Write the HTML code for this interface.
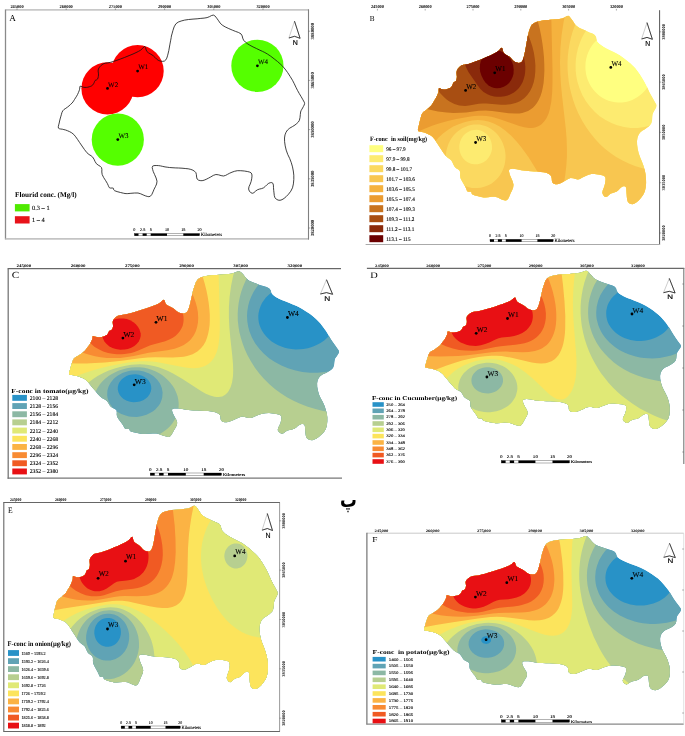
<!DOCTYPE html>
<html><head><meta charset="utf-8"><title>Fluoride maps</title>
<style>
html,body{margin:0;padding:0;background:#fff;}
body{width:685px;height:736px;overflow:hidden;}
svg{display:block;}
text{font-family:"Liberation Serif",serif;fill:#000;text-rendering:geometricPrecision;}
.w{font-size:7px;stroke:#000;stroke-width:0.08px;}
.t{font-size:3.4px;font-weight:bold;text-anchor:middle;}
.tv{font-size:3.4px;font-weight:bold;text-anchor:middle;}
.pl{font-size:8px;}
.lt{font-size:6px;font-weight:bold;}
.li{font-size:4.6px;stroke:#000;stroke-width:0.1px;}
.sb{font-size:3.6px;stroke:#000;stroke-width:0.1px;}
.n{font-family:"Liberation Sans",sans-serif;font-size:7px;text-anchor:middle;stroke:#000;stroke-width:0.15px;}
</style></head><body>
<svg width="685" height="736" viewBox="0 0 685 736">
<rect width="685" height="736" fill="#fff"/>
<g id="pA">
<circle cx="137.6" cy="71.1" r="26.1" fill="#FF0000"/>
<circle cx="107.5" cy="88.4" r="26.1" fill="#FF0000"/>
<circle cx="117.8" cy="139.6" r="26.1" fill="#55FF00"/>
<circle cx="257.4" cy="65.8" r="26.1" fill="#55FF00"/>
<path d="M80.1 86.2L81.1 86.3L82.3 86.9L83.7 87.3L85 87.4L86.4 87.4L87.8 87.2L89.2 86.8L90.7 86.3L91.9 85.7L92.8 84.9L93.4 84.1L93.9 83.2L94.3 82.3L94.6 81.4L95 80.6L95.8 80.1L96.7 79.8L97.5 79.1L98 78L98.3 76.6L98.5 75L98.4 73.1L98.1 71L98.4 69L99.5 67.1L101.1 65.4L103 64L105.2 63.2L107.7 62.9L110.5 62.3L113.6 61.4L116.9 60.3L120.5 59L124.7 57.4L129.1 55.6L133 54L136 52.6L138.5 51.4L140.6 50.2L142.4 48.6L143.8 47L144.9 46.4L145.6 47.5L146 49.5L146.9 51.5L148.7 53L151 54.3L153.2 55.7L154.9 57.3L156.5 59L158.2 60.3L160.3 61.1L162.6 61.4L164.5 61L165.8 59.9L166.8 58.1L167.7 55.2L168.8 50.6L169.8 44.9L170.7 40.2L171.2 37.6L171.4 36L172 33.9L172.9 30.6L174.1 26.9L175.8 23.9L178.2 22.1L181.2 21L184.6 20.1L188.6 19.5L193 19.1L197.1 18.8L200.8 18.4L204.1 18.1L207.1 17.6L209.6 16.6L211.6 15.5L213.4 15.1L214.8 15.8L215.9 17.1L217.2 18.8L218.6 20.8L220.1 23L222.2 25.1L225.2 26.9L228.8 28.6L232.3 30.1L235.5 31.4L238.6 32.5L241 33.9L242.2 35.9L242.7 38.1L243.6 40.2L245.3 42L247.3 43.6L249.8 45.2L253 46.9L256.6 48.6L259.9 50.2L262.5 51.4L264.8 52.5L267.4 54L270.7 56.2L274.2 58.9L277.5 61.5L280.2 63.9L282.6 66.2L285 69L287.6 72.5L290.2 76.5L292.5 80.3L294.3 83.8L295.9 87.2L297.5 90.4L299.3 93.6L301.1 96.6L302.6 99.2L303.6 101L304.3 102.2L304.6 103.5L304.2 105L303.4 106.5L302.6 108L301.9 109.2L301.2 110.4L300.6 112L300.3 114.6L300 117.6L299.4 120.3L298.3 122.1L296.8 123.5L295 125L292.6 126.5L289.8 128.1L287.5 130L286 132.3L285 134.9L284.5 138L284.6 141.7L285.2 145.9L286.2 150.1L287.7 154.3L289.7 158.5L291.3 162.7L292.5 166.9L293.3 171L293.8 175.2L293.8 179.5L293.4 183.9L292.5 187.8L290.8 191.2L288.5 194.2L286.2 196.6L284.1 198.4L282 199.7L280 200.3L278.1 200.1L276.3 199.2L275 197.8L274.3 195.7L274 192.9L273.7 190.3L273.5 187.7L273.4 185.1L272.9 183.3L271.8 182.6L270.3 182.7L268.7 183.3L267.1 184.6L265.4 186.3L263.6 187.8L261.6 188.6L259.4 189.1L257.4 189.8L255.6 191.1L253.9 192.7L252.3 193.3L250.7 192.6L249.3 191L248.6 189L249 186.7L250.2 184.1L251.1 181.5L251.7 178.8L252 176.1L251.8 174L250.9 172.7L249.4 172L247.3 171.5L244.3 171L240.7 170.7L237.3 170.7L234.5 171.3L232 172.2L229.7 173.2L227.6 174.3L225.6 175.4L223.5 176L221.1 175.6L218.5 174.8L215.9 174.5L213.3 175.4L210.8 176.9L208.4 178.2L206.2 179.3L204.1 180.2L202.1 180.7L200.2 180.6L198.4 180.1L197.1 179L196.6 177.1L196.4 174.7L195.9 172.7L194.6 171.3L192.9 170.2L190.8 169.4L188.2 168.8L185.2 168.5L182 168.2L178.6 168L175.2 167.9L172 167.7L169.4 167.5L167.2 167.2L165 166.9L162.7 166.4L160.5 165.9L158.4 165.6L156.2 165.5L154 165.6L152.6 166.2L152.2 167.5L152.6 169.4L153.3 171.7L154.6 174.6L156.1 178L157 181.2L156.6 184L155.4 186.7L154.1 189.2L153 191.9L151.8 194.5L150.4 196.2L148.9 196.7L147.2 196.4L145.3 195.8L143.1 194.9L140.7 193.8L138 193L134.6 193L130.9 193.3L127.8 193.6L126.1 193.6L125 193.5L123.4 193.2L120.5 192.5L117.1 191.6L114.6 190.7L113.7 189.8L113.6 188.8L113.2 188.1L112.1 188L110.7 188.1L109.5 187.8L108.8 186.8L108.2 185.3L107.3 183.4L105.7 180.7L103.7 177.6L102.2 174.6L101.8 172L101.9 169.6L101.5 167.6L100.1 166.2L98.2 165.1L96.4 163.7L95.1 161.6L94 159.2L92.7 157.1L91 155.7L89 154.5L86.9 152.7L84.5 149.6L82 146L79.6 142.5L77.6 139.5L75.7 136.8L73.8 134.5L71.7 132.8L69.5 131.6L67.4 130.7L65.6 130L63.9 129.6L62.3 129.2L60.7 129L59.3 128.7L58.4 128.1L58.3 126.7L58.7 124.9L59.2 123L59.6 121L60.1 119L60.7 116.9L61.3 114.8L61.9 112.6L62.8 110.8L64.1 109.4L65.8 108.3L67.4 107.2L69 105.9L70.6 104.4L72 103.1L73 101.9L73.7 100.8L74.5 99.5L75.5 97.9L76.6 96.2L77.6 94.4L78.4 92.6L79.1 90.9L79.6 89.3L79.8 88L79.8 86.8Z" fill="none" stroke="#111" stroke-width="0.8"/>
</g>
<g id="pB">
<clipPath id="clipB"><path d="M439 88.2L440 88.3L441.2 88.9L442.5 89.3L443.8 89.4L445.2 89.4L446.5 89.2L447.9 88.8L449.3 88.3L450.5 87.7L451.3 86.9L451.9 86L452.4 85.1L452.8 84.2L453 83.3L453.5 82.5L454.2 82L455.1 81.6L455.9 81L456.4 79.8L456.7 78.4L456.9 76.8L456.7 74.9L456.5 72.7L456.8 70.7L457.8 68.8L459.4 67L461.2 65.6L463.3 64.8L465.8 64.4L468.5 63.9L471.4 62.9L474.7 61.8L478.2 60.5L482.2 58.9L486.5 57.1L490.3 55.4L493.2 54L495.6 52.8L497.6 51.6L499.4 49.9L500.7 48.3L501.8 47.7L502.5 48.8L502.9 50.9L503.7 52.9L505.5 54.4L507.8 55.7L509.9 57.1L511.5 58.8L513 60.5L514.7 61.8L516.7 62.6L518.9 62.9L520.8 62.5L522.1 61.4L523 59.5L523.9 56.6L524.9 51.9L526 46.2L526.8 41.4L527.3 38.7L527.5 37.1L528.1 35L528.9 31.6L530.1 27.9L531.7 24.8L534.1 23L537 21.8L540.3 20.9L544.1 20.3L548.4 20L552.4 19.6L555.9 19.2L559.2 18.9L562.1 18.4L564.5 17.4L566.4 16.3L568.2 15.8L569.5 16.5L570.6 17.9L571.8 19.6L573.2 21.6L574.7 23.9L576.7 26L579.6 27.9L583.1 29.6L586.5 31.1L589.6 32.4L592.6 33.5L594.9 35L596.1 37L596.5 39.2L597.4 41.4L599 43.2L601 44.8L603.4 46.5L606.5 48.2L610 49.9L613.2 51.6L615.7 52.8L618 53.9L620.5 55.4L623.6 57.7L627.1 60.4L630.3 63L632.9 65.4L635.2 67.8L637.5 70.7L640 74.3L642.5 78.3L644.8 82.2L646.6 85.7L648.1 89.2L649.6 92.4L651.4 95.7L653.1 98.8L654.6 101.4L655.6 103.2L656.3 104.5L656.5 105.8L656.2 107.3L655.4 108.9L654.6 110.3L653.9 111.6L653.2 112.8L652.6 114.4L652.3 117L652.1 120.2L651.5 122.9L650.4 124.7L649 126.2L647.2 127.6L644.9 129.2L642.2 130.8L639.9 132.7L638.5 135.1L637.5 137.7L637 140.9L637.1 144.6L637.7 148.9L638.7 153.2L640.2 157.4L642 161.7L643.6 166L644.8 170.2L645.6 174.5L646 178.7L646.1 183.1L645.7 187.5L644.8 191.5L643.1 195L640.9 198L638.7 200.5L636.6 202.3L634.6 203.6L632.7 204.2L630.8 204L629.1 203.2L627.8 201.7L627.1 199.5L626.8 196.8L626.6 194.1L626.4 191.4L626.3 188.8L625.8 186.9L624.7 186.2L623.3 186.3L621.7 186.9L620.2 188.2L618.6 190L616.8 191.5L614.8 192.3L612.8 192.9L610.8 193.6L609 194.9L607.4 196.5L605.8 197.1L604.3 196.4L603 194.7L602.3 192.7L602.7 190.4L603.8 187.8L604.7 185.1L605.2 182.4L605.6 179.6L605.4 177.5L604.5 176.2L603 175.5L601 174.9L598.1 174.4L594.6 174.1L591.3 174.1L588.6 174.7L586.2 175.7L584 176.7L581.9 177.8L580 178.9L577.9 179.5L575.6 179.1L573.1 178.3L570.6 178L568.1 178.9L565.7 180.4L563.3 181.8L561.2 182.9L559.1 183.8L557.2 184.3L555.4 184.2L553.7 183.7L552.4 182.6L551.9 180.7L551.7 178.2L551.2 176.2L550 174.7L548.3 173.7L546.3 172.8L543.7 172.2L540.8 171.9L537.7 171.6L534.5 171.4L531.1 171.2L528.1 171.1L525.6 170.8L523.4 170.6L521.3 170.3L519.1 169.8L516.9 169.3L514.9 168.9L512.7 168.8L510.6 168.9L509.3 169.5L508.9 170.9L509.3 172.8L509.9 175.1L511.2 178.1L512.7 181.5L513.5 184.8L513.1 187.7L512 190.4L510.7 192.9L509.6 195.7L508.5 198.3L507.1 200.1L505.7 200.6L504.1 200.3L502.2 199.7L500.1 198.8L497.8 197.6L495.1 196.8L491.8 196.8L488.2 197.2L485.2 197.4L483.6 197.4L482.5 197.3L481 197L478.2 196.3L474.9 195.4L472.5 194.5L471.6 193.5L471.5 192.5L471.1 191.8L470 191.7L468.7 191.8L467.5 191.5L466.8 190.5L466.3 189L465.4 187L463.8 184.3L461.9 181.1L460.4 178.1L460.1 175.5L460.2 173L459.8 171L458.4 169.5L456.5 168.4L454.8 167L453.6 164.9L452.5 162.5L451.2 160.3L449.6 158.9L447.7 157.7L445.6 155.8L443.3 152.7L440.9 149L438.6 145.4L436.6 142.4L434.8 139.6L432.9 137.3L430.9 135.6L428.7 134.4L426.7 133.4L425 132.7L423.3 132.3L421.8 131.9L420.3 131.7L418.9 131.5L418 130.8L417.9 129.4L418.3 127.6L418.8 125.6L419.2 123.6L419.7 121.5L420.2 119.4L420.8 117.2L421.4 115.1L422.3 113.2L423.6 111.8L425.2 110.7L426.7 109.5L428.3 108.2L429.9 106.7L431.2 105.4L432.1 104.2L432.8 103L433.6 101.7L434.6 100.1L435.7 98.3L436.6 96.5L437.4 94.7L438.1 92.9L438.6 91.3L438.7 90L438.7 88.8Z"/></clipPath>
<g clip-path="url(#clipB)">
<path d="M439 88.2L440 88.3L441.2 88.9L442.5 89.3L443.8 89.4L445.2 89.4L446.5 89.2L447.9 88.8L449.3 88.3L450.5 87.7L451.3 86.9L451.9 86L452.4 85.1L452.8 84.2L453 83.3L453.5 82.5L454.2 82L455.1 81.6L455.9 81L456.4 79.8L456.7 78.4L456.9 76.8L456.7 74.9L456.5 72.7L456.8 70.7L457.8 68.8L459.4 67L461.2 65.6L463.3 64.8L465.8 64.4L468.5 63.9L471.4 62.9L474.7 61.8L478.2 60.5L482.2 58.9L486.5 57.1L490.3 55.4L493.2 54L495.6 52.8L497.6 51.6L499.4 49.9L500.7 48.3L501.8 47.7L502.5 48.8L502.9 50.9L503.7 52.9L505.5 54.4L507.8 55.7L509.9 57.1L511.5 58.8L513 60.5L514.7 61.8L516.7 62.6L518.9 62.9L520.8 62.5L522.1 61.4L523 59.5L523.9 56.6L524.9 51.9L526 46.2L526.8 41.4L527.3 38.7L527.5 37.1L528.1 35L528.9 31.6L530.1 27.9L531.7 24.8L534.1 23L537 21.8L540.3 20.9L544.1 20.3L548.4 20L552.4 19.6L555.9 19.2L559.2 18.9L562.1 18.4L564.5 17.4L566.4 16.3L568.2 15.8L569.5 16.5L570.6 17.9L571.8 19.6L573.2 21.6L574.7 23.9L576.7 26L579.6 27.9L583.1 29.6L586.5 31.1L589.6 32.4L592.6 33.5L594.9 35L596.1 37L596.5 39.2L597.4 41.4L599 43.2L601 44.8L603.4 46.5L606.5 48.2L610 49.9L613.2 51.6L615.7 52.8L618 53.9L620.5 55.4L623.6 57.7L627.1 60.4L630.3 63L632.9 65.4L635.2 67.8L637.5 70.7L640 74.3L642.5 78.3L644.8 82.2L646.6 85.7L648.1 89.2L649.6 92.4L651.4 95.7L653.1 98.8L654.6 101.4L655.6 103.2L656.3 104.5L656.5 105.8L656.2 107.3L655.4 108.9L654.6 110.3L653.9 111.6L653.2 112.8L652.6 114.4L652.3 117L652.1 120.2L651.5 122.9L650.4 124.7L649 126.2L647.2 127.6L644.9 129.2L642.2 130.8L639.9 132.7L638.5 135.1L637.5 137.7L637 140.9L637.1 144.6L637.7 148.9L638.7 153.2L640.2 157.4L642 161.7L643.6 166L644.8 170.2L645.6 174.5L646 178.7L646.1 183.1L645.7 187.5L644.8 191.5L643.1 195L640.9 198L638.7 200.5L636.6 202.3L634.6 203.6L632.7 204.2L630.8 204L629.1 203.2L627.8 201.7L627.1 199.5L626.8 196.8L626.6 194.1L626.4 191.4L626.3 188.8L625.8 186.9L624.7 186.2L623.3 186.3L621.7 186.9L620.2 188.2L618.6 190L616.8 191.5L614.8 192.3L612.8 192.9L610.8 193.6L609 194.9L607.4 196.5L605.8 197.1L604.3 196.4L603 194.7L602.3 192.7L602.7 190.4L603.8 187.8L604.7 185.1L605.2 182.4L605.6 179.6L605.4 177.5L604.5 176.2L603 175.5L601 174.9L598.1 174.4L594.6 174.1L591.3 174.1L588.6 174.7L586.2 175.7L584 176.7L581.9 177.8L580 178.9L577.9 179.5L575.6 179.1L573.1 178.3L570.6 178L568.1 178.9L565.7 180.4L563.3 181.8L561.2 182.9L559.1 183.8L557.2 184.3L555.4 184.2L553.7 183.7L552.4 182.6L551.9 180.7L551.7 178.2L551.2 176.2L550 174.7L548.3 173.7L546.3 172.8L543.7 172.2L540.8 171.9L537.7 171.6L534.5 171.4L531.1 171.2L528.1 171.1L525.6 170.8L523.4 170.6L521.3 170.3L519.1 169.8L516.9 169.3L514.9 168.9L512.7 168.8L510.6 168.9L509.3 169.5L508.9 170.9L509.3 172.8L509.9 175.1L511.2 178.1L512.7 181.5L513.5 184.8L513.1 187.7L512 190.4L510.7 192.9L509.6 195.7L508.5 198.3L507.1 200.1L505.7 200.6L504.1 200.3L502.2 199.7L500.1 198.8L497.8 197.6L495.1 196.8L491.8 196.8L488.2 197.2L485.2 197.4L483.6 197.4L482.5 197.3L481 197L478.2 196.3L474.9 195.4L472.5 194.5L471.6 193.5L471.5 192.5L471.1 191.8L470 191.7L468.7 191.8L467.5 191.5L466.8 190.5L466.3 189L465.4 187L463.8 184.3L461.9 181.1L460.4 178.1L460.1 175.5L460.2 173L459.8 171L458.4 169.5L456.5 168.4L454.8 167L453.6 164.9L452.5 162.5L451.2 160.3L449.6 158.9L447.7 157.7L445.6 155.8L443.3 152.7L440.9 149L438.6 145.4L436.6 142.4L434.8 139.6L432.9 137.3L430.9 135.6L428.7 134.4L426.7 133.4L425 132.7L423.3 132.3L421.8 131.9L420.3 131.7L418.9 131.5L418 130.8L417.9 129.4L418.3 127.6L418.8 125.6L419.2 123.6L419.7 121.5L420.2 119.4L420.8 117.2L421.4 115.1L422.3 113.2L423.6 111.8L425.2 110.7L426.7 109.5L428.3 108.2L429.9 106.7L431.2 105.4L432.1 104.2L432.8 103L433.6 101.7L434.6 100.1L435.7 98.3L436.6 96.5L437.4 94.7L438.1 92.9L438.6 91.3L438.7 90L438.7 88.8Z" fill="#FFFF80"/>
<path d="M409.9 8.6L662.7 8.6L662.7 211.1L409.9 211.1ZM617.2 30.9L613.3 31.5L610.4 32.2L607.5 33.2L604.6 34.5L601.7 36.1L598.8 38.2L595.9 40.9L593.7 43.2L592 45.5L590.1 48.6L588.2 52.4L587.1 55.4L586.2 59L585.6 62.5L585.4 66.6L585.5 69.7L586 73.7L586.7 76.8L587.7 79.8L589.1 83.1L591 86.6L593 89.3L594.9 91.6L597.4 94.1L599.7 96L602.7 97.9L605.6 99.5L608.5 100.7L611.4 101.6L615.2 102.3L618.2 102.6L622 102.5L625.9 101.9L628.8 101.2L631.7 100.2L634.6 98.8L637.6 97.1L640.3 95.1L642.6 93.1L645.3 90.2L647.2 87.6L649.1 84.4L650.8 80.8L651.9 77.8L652.7 74.7L653.3 71.7L653.6 68.6L653.5 64.6L653.1 60.5L652.5 57.5L651.5 54.4L650.3 51.4L648.8 48.3L646.8 45.2L644.4 42.2L642.4 40.1L640.1 38.1L637.2 36.1L633.7 34.1L630.7 32.9L627.8 31.9L624 31.2L621.1 30.9Z" fill="#FDEB70" fill-rule="evenodd"/>
<path d="M409.9 8.6L612.1 8.6L607.5 10.9L602.7 13.8L597.8 17.4L593.9 20.9L590.1 25.2L587.2 29L584.2 33.5L581.8 38.1L579.7 43.2L578 48.3L576.6 54.4L575.9 59.5L575.6 65.6L575.7 70.7L576.4 76.8L577.5 81.9L579.4 88.1L582.3 94.9L585.9 101.2L590.1 106.8L594.9 112L599.7 116.2L605.6 120.1L611.4 123.1L617.2 125.3L624 127L630.7 127.9L637.5 127.9L644.3 127.1L650.4 125.6L656.9 123.2L662.7 120.3L662.7 211.1L409.9 211.1ZM470.9 130.6L468 131.9L465.3 133.7L463.3 135.8L461.3 138.8L460 141.9L459.4 144.9L459.3 148.5L459.9 152.1L461 155.1L463 158.2L465.1 160.4L468 162.5L470.9 163.7L473.8 164.3L477.7 164.3L480.6 163.6L483.5 162.3L486.4 160.2L488.3 158.1L490.2 155.1L491.4 152.1L492 149L491.9 144.9L491.3 141.9L490.1 138.8L488.1 135.8L486.2 133.7L483.3 131.7L480.6 130.5L478.7 130L476.7 129.8L473.8 129.9ZM656.4 8.6L662.7 8.6L662.7 11.8Z" fill="#FBD960" fill-rule="evenodd"/>
<path d="M409.9 8.6L583.3 8.6L580.4 13.7L577.5 19.4L574.7 25.9L572.6 31.8L570.8 38.1L569.5 44.2L568.5 50.3L567.8 56.4L567.5 62.5L567.6 69.7L568.1 75.8L568.8 81.9L569.9 88L571.4 94.1L573.2 100.2L575.5 106.7L578.4 113.5L582.3 121L586.2 127.3L590.1 132.8L594.9 138.7L599.7 143.9L604.6 148.4L610.4 153L616.2 156.9L623 160.8L628.8 163.6L635.6 166.2L642.4 168.2L649.1 169.7L655.9 170.7L662.7 171.1L662.7 211.1L409.9 211.1ZM476.7 124.5L473.8 124.6L470.9 125L468 125.8L465.1 126.9L462.2 128.3L460 129.7L457.3 131.7L455.1 133.7L453.3 135.8L451.1 138.8L449.9 140.9L448.4 143.9L446.8 149L446.2 152.1L445.9 155.1L445.9 158.2L446.2 161.2L446.8 164.3L447.7 167.3L448.6 169.7L449.9 172.4L451.5 175L453.5 177.5L455.4 179.6L458.3 182.1L460.4 183.6L463.2 185.1L466.1 186.4L469 187.3L471.9 187.9L474.8 188.1L477.7 188.1L480.6 187.8L483.5 187.1L486.4 186.1L489.3 184.8L491.3 183.7L494.1 181.6L496.1 179.8L498 177.7L500 175.2L501.6 172.4L502.9 169.8L503.8 167.3L504.7 164.3L505.2 161.2L505.5 158.2L505.5 155.1L505.2 152.1L504.7 149L503.8 145.9L502.7 142.9L501.1 139.8L499.2 136.8L497.7 134.8L495.8 132.7L493.6 130.7L490.8 128.7L488.3 127.3L485.4 126L482.5 125.2L479.6 124.6Z" fill="#F8C650" fill-rule="evenodd"/>
<path d="M409.9 8.6L566.5 8.6L563.6 21.9L561.6 35.1L560.4 48.3L560 62.5L560.3 73.7L561 84.9L562.2 97.1L565.8 128.7L566.6 138.8L566.9 148L566.9 157.1L566.3 166.3L565.2 175.4L562.6 191.7L562.3 194.8L562.3 197.8L562.7 200.9L563.4 203.9L564.5 207L566.4 211.1L546.7 211.1L548 208L548.7 206L549.2 203.9L549.5 200.9L549.4 198.8L548.9 195.8L547.2 190.7L545 185.6L542.9 181.6L535.4 168.3L528.4 157.1L521.9 148L517 141.9L511.3 135.8L505.5 130.7L499.7 126.6L493.9 123.6L488.4 121.5L483.5 120.5L477.7 120.1L471.9 120.5L465.1 121.9L459.3 123.9L453.2 126.6L448.1 129.7L442.7 133.7L438.4 137.8L434.1 142.9L432 145.9L429.5 150L427.5 154.1L425.8 158.2L424.5 162.2L423.5 166.3L422.7 170.4L422.2 175.4L422 179.5L422.2 184.6L422.7 189.7L423.5 193.8L424.8 198.8L426.1 202.9L427.8 207L429.7 211.1L409.9 211.1Z" fill="#F5B23E" fill-rule="evenodd"/>
<path d="M409.9 8.6L551.1 8.6L552.5 69.7L552.5 81.9L552.2 92L551.3 101.6L549.8 109.3L548.6 113.4L547.4 116.2L546.3 118.5L544.5 121.1L541.6 124.2L539.7 125.6L537.7 126.6L535.8 127.3L533.9 127.7L531.9 128L529 128L524.2 127.3L519.3 126.1L500 119.2L495.1 117.7L491.3 116.8L486.4 116L482.5 115.7L478.7 115.7L473.8 116.1L466.1 117.2L456.4 119.1L447.7 121.1L438.9 123.6L432.7 125.6L424.7 128.7L417.7 131.7L409.9 135.6Z" fill="#EB9C31" fill-rule="evenodd"/>
<path d="M409.9 8.6L534.1 8.6L536 14.7L538 21.9L539.7 28.6L541.2 36.1L542.4 43.2L543.3 50.3L544 57.5L544.3 64.6L544.4 70.7L544.1 76.8L543.6 82.9L542.7 88L541.8 92L540.5 96.1L538.7 100L536.8 103.2L534.8 105.8L532.9 107.7L530.8 109.3L528.1 111L525.2 112.1L522.2 112.9L519.3 113.4L515.5 113.6L508.7 113.3L492.2 111L485.4 110.5L478.7 110.8L466.1 112.4L460.3 112.8L453.5 112.9L446.7 112.5L437.9 111.4L427.8 109.3L418.6 106.9L409.9 104Z" fill="#C8731F" fill-rule="evenodd"/>
<path d="M436.5 13.7L438.9 11L441.3 8.6L508.2 8.6L510.6 10.7L514.5 14.5L518.4 18.9L522.2 24.2L525.2 29L528.1 34.8L530.3 40.2L532.3 46.3L533.9 52.7L534.9 59.5L535.4 65.6L535.3 71.7L534.8 76.8L533.8 81.9L532.1 87L530 91.3L527.3 95.1L524.2 98.2L520.3 100.9L517.6 102.2L515.5 103L510.6 104.2L505.8 104.8L500.9 104.8L486.4 103.6L482.5 103.5L478.7 103.8L469 105.6L465.1 105.9L462.2 105.8L459.3 105.4L454.4 103.9L451.5 102.6L449.1 101.2L446.3 99.2L443.9 97.1L440 93.1L436.9 89L433.8 83.9L430.7 77.8L428.6 72.7L426.7 66.6L425.3 60.5L424.5 54.4L424.3 48.3L424.6 43.2L425.5 37.1L426.8 32L428.6 26.9L431 21.9L433.5 17.8Z" fill="#A84E12" fill-rule="evenodd"/>
<path d="M477.7 33.1L479.8 32L482.5 31L485.4 30.2L488.3 29.8L491.3 29.7L494.2 29.9L497.1 30.4L500 31.1L502.9 32.2L505.8 33.7L508.7 35.5L510.6 37L513.5 39.6L515.5 41.8L517.4 44.2L519.3 47.2L521.1 50.3L522.2 53L523.5 56.4L524.3 59.5L525 63.6L525.3 66.6L525.3 69.7L525.1 72.7L524.6 75.8L523.8 78.8L522.7 81.9L521.3 84.6L519.7 87L518 89L515.9 91L513.5 92.7L510.6 94.3L507.7 95.5L504.8 96.2L500.9 96.8L497.1 96.7L494.2 96.4L490.3 95.5L487.4 94.3L483.6 92L480.4 89L478.1 85.9L468.3 71.7L466.7 68.6L465.8 66.6L464.8 63.6L464.3 61.5L463.9 56.4L464.1 53.4L464.7 50.3L465.6 47.3L466.4 45.2L468 42.4L469.5 40.2L471.3 38.1L473.4 36.1L475.8 34.3Z" fill="#8A2A0B" fill-rule="evenodd"/>
<path d="M489.3 51.8L492.2 50.8L496.1 50.5L500 51.1L502.9 52.2L505.8 54L508.4 56.4L510.6 59.3L512.2 62.5L513.2 65.6L513.7 69.7L513.5 73.7L512.7 76.8L511.3 79.8L509.1 82.9L506.8 85.1L503.8 86.8L500.2 88L497.1 88.2L494.2 87.9L491.3 86.9L488.3 85.2L485.4 82.5L483.5 79.8L481.5 75.8L480.2 71.7L479.8 68.6L480 64.6L480.7 61.5L482 58.5L484.2 55.4L486.4 53.4Z" fill="#6B0000" fill-rule="evenodd"/>
</g>
</g>
<g id="pC">
<clipPath id="clipC"><path d="M92.9 336.1L93.9 336.2L95.4 336.7L96.8 337.1L98.3 337.2L99.8 337.2L101.3 337L102.9 336.7L104.5 336.2L105.8 335.6L106.8 334.9L107.5 334.2L108 333.4L108.4 332.5L108.8 331.7L109.2 331L110.1 330.5L111.1 330.2L112 329.6L112.5 328.6L112.9 327.3L113.1 325.9L112.9 324.1L112.7 322.2L113 320.4L114.1 318.7L115.9 317.1L118 315.8L120.4 315.2L123.2 314.8L126.2 314.3L129.6 313.5L133.2 312.5L137.2 311.3L141.8 309.8L146.6 308.2L150.9 306.7L154.2 305.5L156.9 304.4L159.3 303.3L161.2 301.8L162.7 300.3L164 299.8L164.7 300.8L165.2 302.7L166.2 304.4L168.2 305.8L170.7 307L173.1 308.3L175 309.8L176.7 311.3L178.6 312.5L180.9 313.2L183.4 313.5L185.5 313.1L186.9 312.1L188 310.4L189 307.8L190.2 303.6L191.3 298.4L192.3 294.1L192.8 291.8L193.1 290.3L193.7 288.4L194.7 285.4L196 282L197.9 279.3L200.5 277.6L203.8 276.6L207.5 275.8L211.9 275.2L216.7 274.9L221.2 274.6L225.2 274.3L228.9 274L232.2 273.5L234.9 272.6L237.2 271.6L239.1 271.2L240.7 271.9L241.9 273.1L243.3 274.6L244.8 276.4L246.5 278.4L248.8 280.4L252.1 282L256.1 283.5L259.8 284.9L263.4 286.1L266.8 287.1L269.4 288.4L270.7 290.2L271.2 292.2L272.2 294.1L274.1 295.7L276.3 297.2L279 298.7L282.5 300.3L286.5 301.8L290.1 303.3L293 304.4L295.5 305.4L298.3 306.7L301.9 308.8L305.8 311.2L309.4 313.6L312.4 315.7L315 317.9L317.6 320.4L320.5 323.6L323.3 327.2L325.9 330.7L327.9 333.9L329.6 337L331.4 339.9L333.3 342.8L335.3 345.6L337 347.9L338.1 349.6L338.9 350.7L339.1 351.9L338.7 353.2L337.8 354.6L337 356L336.2 357.1L335.4 358.1L334.8 359.6L334.4 362L334.1 364.8L333.4 367.2L332.2 368.9L330.6 370.2L328.6 371.5L325.9 372.9L322.9 374.3L320.4 376L318.7 378.1L317.6 380.5L317.1 383.3L317.2 386.7L317.9 390.5L319 394.4L320.7 398.2L322.8 402L324.6 405.9L325.8 409.7L326.8 413.5L327.3 417.3L327.3 421.2L326.9 425.2L325.9 428.8L324 431.9L321.5 434.6L319 436.8L316.6 438.5L314.3 439.6L312.2 440.2L310.1 440L308.2 439.2L306.7 437.9L305.9 435.9L305.5 433.5L305.3 431L305.1 428.6L304.9 426.3L304.4 424.7L303.2 424L301.5 424.1L299.8 424.7L298 425.8L296.2 427.4L294.2 428.8L292 429.5L289.6 430L287.4 430.6L285.4 431.8L283.5 433.2L281.8 433.8L280.1 433.1L278.5 431.6L277.7 429.9L278.2 427.8L279.4 425.4L280.5 423L281.1 420.6L281.5 418.1L281.2 416.2L280.2 415L278.6 414.4L276.3 413.9L273 413.4L269 413.1L265.3 413.2L262.3 413.7L259.6 414.6L257 415.4L254.7 416.4L252.5 417.4L250.2 418L247.5 417.7L244.7 416.9L241.9 416.6L239.1 417.4L236.3 418.8L233.6 420L231.2 421L228.9 421.8L226.7 422.3L224.6 422.2L222.7 421.7L221.2 420.7L220.6 419L220.5 416.9L219.9 415L218.5 413.7L216.6 412.7L214.3 412L211.5 411.4L208.1 411.1L204.7 410.9L201 410.7L197.2 410.6L193.7 410.4L190.9 410.2L188.4 410L186 409.7L183.5 409.3L181.1 408.8L178.8 408.5L176.3 408.4L174 408.5L172.4 409.1L172 410.3L172.4 412L173.2 414.1L174.6 416.7L176.3 419.8L177.2 422.7L176.8 425.3L175.5 427.7L174.1 430L172.8 432.5L171.5 434.8L170 436.4L168.3 436.9L166.5 436.6L164.4 436.1L162 435.3L159.4 434.2L156.4 433.5L152.7 433.5L148.6 433.8L145.2 434L143.3 434.1L142.1 434L140.4 433.7L137.2 433.1L133.5 432.2L130.7 431.4L129.7 430.5L129.6 429.7L129.2 429L128 428.9L126.5 429.1L125.1 428.8L124.3 427.8L123.7 426.5L122.7 424.7L120.9 422.3L118.8 419.4L117.1 416.7L116.7 414.4L116.8 412.2L116.4 410.3L114.8 409L112.7 408L110.8 406.8L109.4 404.9L108.2 402.7L106.7 400.8L104.8 399.5L102.7 398.4L100.4 396.7L97.7 394L95 390.6L92.3 387.4L90.1 384.7L88.1 382.2L86 380.1L83.6 378.6L81.2 377.5L79 376.7L76.9 376.1L75.1 375.7L73.4 375.3L71.7 375.1L70.1 374.9L69.1 374.3L69 373.1L69.4 371.4L70 369.7L70.4 367.9L71 366L71.6 364.1L72.2 362.2L72.9 360.2L73.9 358.5L75.4 357.3L77.2 356.3L79 355.2L80.7 354L82.5 352.7L84 351.5L85.1 350.4L85.9 349.4L86.7 348.2L87.9 346.8L89.1 345.2L90.1 343.6L91 342L91.8 340.3L92.3 338.9L92.5 337.7L92.5 336.7Z"/></clipPath>
<g clip-path="url(#clipC)">
<path d="M92.9 336.1L93.9 336.2L95.4 336.7L96.8 337.1L98.3 337.2L99.8 337.2L101.3 337L102.9 336.7L104.5 336.2L105.8 335.6L106.8 334.9L107.5 334.2L108 333.4L108.4 332.5L108.8 331.7L109.2 331L110.1 330.5L111.1 330.2L112 329.6L112.5 328.6L112.9 327.3L113.1 325.9L112.9 324.1L112.7 322.2L113 320.4L114.1 318.7L115.9 317.1L118 315.8L120.4 315.2L123.2 314.8L126.2 314.3L129.6 313.5L133.2 312.5L137.2 311.3L141.8 309.8L146.6 308.2L150.9 306.7L154.2 305.5L156.9 304.4L159.3 303.3L161.2 301.8L162.7 300.3L164 299.8L164.7 300.8L165.2 302.7L166.2 304.4L168.2 305.8L170.7 307L173.1 308.3L175 309.8L176.7 311.3L178.6 312.5L180.9 313.2L183.4 313.5L185.5 313.1L186.9 312.1L188 310.4L189 307.8L190.2 303.6L191.3 298.4L192.3 294.1L192.8 291.8L193.1 290.3L193.7 288.4L194.7 285.4L196 282L197.9 279.3L200.5 277.6L203.8 276.6L207.5 275.8L211.9 275.2L216.7 274.9L221.2 274.6L225.2 274.3L228.9 274L232.2 273.5L234.9 272.6L237.2 271.6L239.1 271.2L240.7 271.9L241.9 273.1L243.3 274.6L244.8 276.4L246.5 278.4L248.8 280.4L252.1 282L256.1 283.5L259.8 284.9L263.4 286.1L266.8 287.1L269.4 288.4L270.7 290.2L271.2 292.2L272.2 294.1L274.1 295.7L276.3 297.2L279 298.7L282.5 300.3L286.5 301.8L290.1 303.3L293 304.4L295.5 305.4L298.3 306.7L301.9 308.8L305.8 311.2L309.4 313.6L312.4 315.7L315 317.9L317.6 320.4L320.5 323.6L323.3 327.2L325.9 330.7L327.9 333.9L329.6 337L331.4 339.9L333.3 342.8L335.3 345.6L337 347.9L338.1 349.6L338.9 350.7L339.1 351.9L338.7 353.2L337.8 354.6L337 356L336.2 357.1L335.4 358.1L334.8 359.6L334.4 362L334.1 364.8L333.4 367.2L332.2 368.9L330.6 370.2L328.6 371.5L325.9 372.9L322.9 374.3L320.4 376L318.7 378.1L317.6 380.5L317.1 383.3L317.2 386.7L317.9 390.5L319 394.4L320.7 398.2L322.8 402L324.6 405.9L325.8 409.7L326.8 413.5L327.3 417.3L327.3 421.2L326.9 425.2L325.9 428.8L324 431.9L321.5 434.6L319 436.8L316.6 438.5L314.3 439.6L312.2 440.2L310.1 440L308.2 439.2L306.7 437.9L305.9 435.9L305.5 433.5L305.3 431L305.1 428.6L304.9 426.3L304.4 424.7L303.2 424L301.5 424.1L299.8 424.7L298 425.8L296.2 427.4L294.2 428.8L292 429.5L289.6 430L287.4 430.6L285.4 431.8L283.5 433.2L281.8 433.8L280.1 433.1L278.5 431.6L277.7 429.9L278.2 427.8L279.4 425.4L280.5 423L281.1 420.6L281.5 418.1L281.2 416.2L280.2 415L278.6 414.4L276.3 413.9L273 413.4L269 413.1L265.3 413.2L262.3 413.7L259.6 414.6L257 415.4L254.7 416.4L252.5 417.4L250.2 418L247.5 417.7L244.7 416.9L241.9 416.6L239.1 417.4L236.3 418.8L233.6 420L231.2 421L228.9 421.8L226.7 422.3L224.6 422.2L222.7 421.7L221.2 420.7L220.6 419L220.5 416.9L219.9 415L218.5 413.7L216.6 412.7L214.3 412L211.5 411.4L208.1 411.1L204.7 410.9L201 410.7L197.2 410.6L193.7 410.4L190.9 410.2L188.4 410L186 409.7L183.5 409.3L181.1 408.8L178.8 408.5L176.3 408.4L174 408.5L172.4 409.1L172 410.3L172.4 412L173.2 414.1L174.6 416.7L176.3 419.8L177.2 422.7L176.8 425.3L175.5 427.7L174.1 430L172.8 432.5L171.5 434.8L170 436.4L168.3 436.9L166.5 436.6L164.4 436.1L162 435.3L159.4 434.2L156.4 433.5L152.7 433.5L148.6 433.8L145.2 434L143.3 434.1L142.1 434L140.4 433.7L137.2 433.1L133.5 432.2L130.7 431.4L129.7 430.5L129.6 429.7L129.2 429L128 428.9L126.5 429.1L125.1 428.8L124.3 427.8L123.7 426.5L122.7 424.7L120.9 422.3L118.8 419.4L117.1 416.7L116.7 414.4L116.8 412.2L116.4 410.3L114.8 409L112.7 408L110.8 406.8L109.4 404.9L108.2 402.7L106.7 400.8L104.8 399.5L102.7 398.4L100.4 396.7L97.7 394L95 390.6L92.3 387.4L90.1 384.7L88.1 382.2L86 380.1L83.6 378.6L81.2 377.5L79 376.7L76.9 376.1L75.1 375.7L73.4 375.3L71.7 375.1L70.1 374.9L69.1 374.3L69 373.1L69.4 371.4L70 369.7L70.4 367.9L71 366L71.6 364.1L72.2 362.2L72.9 360.2L73.9 358.5L75.4 357.3L77.2 356.3L79 355.2L80.7 354L82.5 352.7L84 351.5L85.1 350.4L85.9 349.4L86.7 348.2L87.9 346.8L89.1 345.2L90.1 343.6L91 342L91.8 340.3L92.3 338.9L92.5 337.7L92.5 336.7Z" fill="#2892C7"/>
<path d="M59.9 264.8L346.2 264.8L346.2 446.3L59.9 446.3ZM129 375.1L126.5 376L123.4 377.9L121.3 379.7L119.3 382.4L118.5 384.2L117.8 387L117.8 389.7L118.5 392.5L119.9 395.2L121.4 397L123.5 398.9L126.8 400.7L130.1 401.8L133.4 402.2L136.7 402.1L139.9 401.5L143.2 400.2L145.5 398.8L147.6 397L149.6 394.3L150.8 391.5L151.3 388.8L151.1 386.1L150.3 383.3L148.6 380.6L146.9 378.8L144.5 377L142.1 375.7L138.9 374.7L135.6 374.3L132.3 374.4ZM291.3 284.8L286.9 285.6L283.6 286.5L280.4 287.7L277.1 289.1L273.8 291L270.9 293L268.3 295.2L265.9 297.6L263.9 300.2L262 303.1L260.6 305.9L259.4 309.5L258.6 313.1L258.3 315.8L258.4 319.3L258.8 322.2L259.5 325L260.9 328.6L262.4 331.3L264.2 334.1L266.5 336.8L269.3 339.6L271.6 341.4L274.9 343.5L278.2 345.2L281.4 346.6L284.7 347.7L288 348.5L291.3 349L295.7 349.4L300.1 349.3L303.4 349L307.8 348.2L311.1 347.3L314.4 346.1L317.6 344.6L320.9 342.8L324.2 340.5L326.4 338.5L329 335.9L331.1 333.2L332.8 330.4L334.1 327.7L335.1 325L335.8 322.2L336.3 318.6L336.2 314.9L335.9 312.2L335 308.5L334 305.8L332.6 303.1L330.9 300.3L328.7 297.6L326.4 295.3L323.8 293L320.9 291.1L317.6 289.2L314.4 287.7L311.1 286.5L306.7 285.4L303.4 284.8L299 284.5L294.6 284.5Z" fill="#60A3B5" fill-rule="evenodd"/>
<path d="M59.9 264.8L287.6 264.8L282.5 266.8L277.1 269.5L271.6 272.9L267.2 276.1L262.8 280.1L259.5 283.6L256.2 287.8L253.5 292.1L251.2 296.7L249.4 301.2L248.2 305.8L247.3 311.3L247 315.8L247.3 321.3L248.2 326.8L249.4 331.3L251.8 337.3L255.1 343.2L259.5 349.1L263.9 353.7L269.4 358.4L274.9 362.1L281.4 365.6L288 368.3L294.6 370.3L302.3 371.9L310 372.7L317.6 372.7L325.3 372.1L331.9 370.9L339.4 368.7L346.2 366.1L346.2 446.3L59.9 446.3ZM133.4 370.4L131.2 370.6L127.9 371.2L124.6 372.2L122.4 373.1L118 375.4L115.9 377L113.8 378.8L110.8 382.4L108.8 386.1L108.1 387.9L107.4 390.6L107.2 395.2L107.6 397.9L108.1 399.8L109.2 402.5L110.2 404.3L112.9 408L114.7 409.7L116.9 411.4L121.3 414L125.7 415.6L129 416.4L131.2 416.7L136.7 416.9L139.9 416.5L142.1 416.1L146.5 414.8L150.9 412.6L153.1 411.2L155.3 409.4L158.6 405.7L160.1 403.4L161 401.6L161.6 399.8L162.3 397L162.6 392.5L161.8 387.9L160.7 385.2L159.8 383.3L157.2 379.7L155.4 377.9L153.3 376L150.9 374.5L148.7 373.3L146.5 372.4L143.9 371.5L138.9 370.5L136.7 370.4ZM340.7 264.8L346.2 264.8L346.2 267Z" fill="#8CB8A4" fill-rule="evenodd"/>
<path d="M59.9 264.8L255.5 264.8L251.8 269.7L248.5 275L245.8 280.3L243.4 285.7L241.4 291.2L239.9 296.7L238.7 302.8L238 308.5L237.7 314L237.8 320.4L238.5 326.8L239.4 332.3L240.9 338.1L242.8 344.1L244.9 349.6L247.4 355.1L250.7 361.1L255.1 368L259.5 373.8L263.9 378.8L269.4 384.2L274.9 388.9L280.4 393L286.9 397.2L293.5 400.8L300.1 403.8L307.8 406.8L315.5 409.1L323.1 411L330.8 412.3L338.5 413.2L346.2 413.6L346.2 446.3L59.9 446.3ZM131.2 367.6L126.8 368.3L122.4 369.4L119 370.6L114.8 372.4L111.4 374.2L108.6 376L105.1 378.8L102.3 381.5L99.9 384.2L97.5 387.9L95.7 391.5L94.6 394.3L93.7 397.9L93.3 400.7L93.2 404.3L93.5 408L94.3 411.6L95.5 415.3L97.2 418.7L99 421.6L101.1 424.4L103.8 427.2L107 430L110.3 432.3L113.6 434.2L118 436.2L121.3 437.4L125.7 438.5L130.1 439.3L133.4 439.6L137.8 439.7L142.1 439.4L146.5 438.7L149.8 437.9L154.2 436.5L157.5 435.1L160.8 433.4L164.1 431.3L167.4 428.7L170 426.2L172.3 423.5L174.7 419.8L176.1 416.9L177.4 413.4L178.1 410.7L178.6 407.1L178.7 403.4L178.3 399.8L177.5 396.1L176.2 392.5L174.5 388.8L172.8 386.1L170.1 382.4L167.5 379.7L164.5 377L162 375.1L159.2 373.3L155.3 371.2L151.4 369.7L147.6 368.5L144.3 367.8L139.9 367.3L135.6 367.2Z" fill="#B7CF90" fill-rule="evenodd"/>
<path d="M59.9 264.8L236.2 264.8L233.2 275.4L231.1 285.7L229.6 296.7L228.9 307.6L228.9 317.7L229.4 327.7L230.3 337.7L232.3 356L233 364.2L233.2 370.6L233 376L232.1 382.2L230.7 387L228.8 390.8L227.6 392.5L225.8 394.3L224.4 395.3L222.2 396.4L218.9 397.1L216.7 397.1L214.5 396.8L210.2 395.6L205.8 393.7L201.4 391.2L182.1 378.8L172.6 373.3L167 370.6L162.6 368.7L158.6 367.3L153.8 366L148.7 365L144.3 364.5L139.9 364.3L135.6 364.4L131.2 364.8L125.7 365.7L120 366.9L114.7 368.4L108.8 370.6L103.8 372.8L97.6 376L93.4 378.8L88.5 382.4L84.5 386.1L80.2 390.6L76.7 395.2L73.3 400.7L70.3 407.1L68.1 413.4L66.8 419.8L66.3 426.2L66.5 433.5L67.5 439.9L69.2 446.3L59.9 446.3Z" fill="#E0E976" fill-rule="evenodd"/>
<path d="M59.9 264.8L218.4 264.8L219.8 318.6L219.8 328.6L219.5 336.8L218.5 345L217.7 348.7L216.7 351.9L214.5 356.9L212.8 359.6L211.2 361.5L208 364.3L205.8 365.6L203.6 366.6L199.2 367.7L197 368L193.7 368.2L189.3 368L183.8 367.3L161.9 362.9L156.4 362.1L152 361.6L146.5 361.3L141 361.3L134.5 361.8L127.9 362.6L118.6 364.2L109.8 366L102.1 367.8L92.4 370.6L84 373.3L76.6 376L67.8 379.7L59.9 383.3Z" fill="#FCE45C" fill-rule="evenodd"/>
<path d="M59.9 264.8L198.3 264.8L200.7 271.1L202.9 277.5L204.7 283.6L206.4 290.3L207.7 296.7L208.7 303.1L209.4 309.5L209.8 314.9L209.8 320.4L209.6 325L209 329.5L208.1 334.1L207 337.7L205.6 341.4L203.6 344.9L201.4 347.8L199.6 349.6L197.4 351.4L194.8 353.1L192.6 354.2L190.3 355.1L187.1 356L183.8 356.7L180.5 357.1L172.9 357.5L155.3 357.2L147.6 357.5L139.9 358.2L123.5 360.5L114.7 361.6L104.8 362.5L95 363.1L86.2 363.4L77.4 363.5L68.7 363.3L59.9 362.9Z" fill="#FBB344" fill-rule="evenodd"/>
<path d="M59.9 264.8L167.4 264.8L172.9 269.1L177.2 273.1L181.6 277.8L184.9 281.9L188.2 286.6L191.4 292.1L193.7 297L195.6 302.2L197 307.2L197.9 312.2L198.2 317.7L198 322.2L197.2 326.8L195.8 331.3L194 335L191.5 338.6L189.8 340.5L187.7 342.3L183.8 345L179.4 347.1L174.6 348.7L167.4 350.2L154.2 351.9L148.7 352.7L133.7 356L129 356.8L120.2 357.9L113.6 358.1L107 357.9L100.5 357.2L95 356.2L88.4 354.5L82.9 352.7L77.5 350.5L72.1 347.8L66.2 344.1L62.5 341.4L59.9 339.2Z" fill="#F88B33" fill-rule="evenodd"/>
<path d="M168.5 294.8L171.8 297.1L174.4 299.4L176.9 302.2L179 304.9L180.6 307.6L181.9 310.4L182.8 313.1L183.5 316.8L183.6 320.4L183.3 323.1L182.6 325.9L181.4 328.6L179.8 331.3L177.4 334.1L175.4 335.9L172.8 337.7L169.3 339.6L165.2 341.2L153.1 344.4L149.8 345.5L138.3 350.5L134.5 351.9L131.2 352.9L127.9 353.6L124.6 354.1L121.3 354.3L116.9 354.3L112.5 353.8L108.1 353L103.2 351.4L99.2 349.6L94.7 346.9L91.3 344.1L88.7 341.4L86.6 338.6L84.9 335.9L83.6 333.2L82.5 329.5L82 326.8L81.7 323.1L82 319.5L82.6 316.8L83.8 313.1L85 310.4L86.6 307.6L88.6 304.9L91.1 302.2L93.9 299.6L97.2 297.1L100.5 295L103.8 293.2L108.1 291.2L112.5 289.7L116.9 288.5L121.3 287.5L125.7 286.8L130.1 286.4L135.6 286.2L139.9 286.3L144.3 286.6L148.7 287.3L153.1 288.2L157.5 289.5L160.8 290.7L165.2 292.8Z" fill="#F05A23" fill-rule="evenodd"/>
<path d="M115.8 318.9L119.1 318.4L123.5 318.4L126.8 319.1L130.1 320.3L133.4 322.2L135.6 324.1L137.9 326.8L139.5 329.5L140.6 333.2L140.7 335.9L140.1 338.6L138.8 341.4L136.6 344.1L134.4 345.9L131.2 347.8L127.9 349L124.6 349.6L120.2 349.8L115.8 349.1L112.5 348L109.2 346.2L106.6 344.1L104.4 341.4L103 338.6L102.2 335.9L102.1 332.3L102.8 329.5L104.1 326.8L106.3 324.1L109.2 321.6L112.5 319.9Z" fill="#E81014" fill-rule="evenodd"/>
</g>
</g>
<g id="pD">
<clipPath id="clipD"><path d="M447.8 331.4L448.8 331.5L450.1 332L451.5 332.4L452.9 332.5L454.3 332.4L455.8 332.3L457.3 332L458.8 331.5L460 331L460.9 330.4L461.6 329.6L462.1 328.9L462.5 328.1L462.8 327.3L463.3 326.7L464.1 326.2L465 325.9L465.9 325.4L466.4 324.4L466.7 323.2L466.9 321.9L466.8 320.3L466.5 318.5L466.8 316.7L467.9 315.2L469.6 313.7L471.6 312.5L473.8 311.8L476.5 311.5L479.4 311L482.5 310.2L486 309.3L489.7 308.2L494.1 306.9L498.7 305.3L502.7 303.9L505.9 302.8L508.4 301.7L510.6 300.7L512.5 299.3L513.9 298L515.1 297.4L515.8 298.4L516.2 300.1L517.2 301.8L519.1 303L521.5 304.2L523.7 305.4L525.5 306.8L527.1 308.2L528.9 309.3L531.1 310L533.5 310.2L535.5 309.9L536.8 309L537.8 307.4L538.8 305L539.9 301L541 296.2L541.9 292.1L542.4 289.9L542.7 288.5L543.3 286.8L544.2 284L545.4 280.8L547.2 278.2L549.7 276.7L552.8 275.7L556.3 275L560.5 274.4L565.1 274.2L569.3 273.9L573.1 273.6L576.6 273.3L579.7 272.8L582.3 272L584.4 271.1L586.3 270.7L587.7 271.3L588.9 272.5L590.2 273.9L591.7 275.5L593.2 277.5L595.4 279.3L598.6 280.8L602.3 282.2L605.9 283.5L609.3 284.6L612.5 285.6L614.9 286.8L616.2 288.4L616.7 290.4L617.6 292.1L619.4 293.7L621.5 295L624.1 296.4L627.4 297.9L631.1 299.3L634.6 300.7L637.3 301.7L639.7 302.7L642.4 303.9L645.8 305.8L649.5 308.1L652.9 310.3L655.7 312.4L658.2 314.4L660.7 316.7L663.4 319.8L666.1 323.1L668.5 326.4L670.4 329.4L672 332.3L673.7 335L675.5 337.8L677.4 340.4L678.9 342.5L680 344L680.8 345.1L681 346.2L680.6 347.5L679.8 348.8L678.9 350.1L678.2 351.1L677.5 352.1L676.9 353.5L676.5 355.7L676.3 358.3L675.6 360.6L674.5 362.1L672.9 363.3L671.1 364.6L668.5 365.9L665.6 367.2L663.3 368.8L661.7 370.8L660.6 373L660.1 375.7L660.2 378.8L660.9 382.4L661.9 386L663.5 389.6L665.5 393.2L667.2 396.8L668.4 400.3L669.3 403.9L669.8 407.5L669.8 411.2L669.4 414.9L668.5 418.2L666.7 421.1L664.3 423.7L661.9 425.7L659.7 427.3L657.5 428.4L655.5 428.9L653.5 428.7L651.7 428L650.3 426.8L649.5 424.9L649.2 422.6L648.9 420.3L648.7 418.1L648.6 415.9L648.1 414.4L646.9 413.8L645.4 413.9L643.7 414.4L642.1 415.4L640.3 416.9L638.4 418.2L636.3 418.9L634.1 419.3L632 419.9L630.1 421.1L628.3 422.4L626.7 422.9L625.1 422.3L623.6 420.9L622.8 419.2L623.3 417.3L624.5 415.1L625.4 412.8L626 410.5L626.4 408.2L626.2 406.4L625.2 405.3L623.7 404.7L621.5 404.3L618.4 403.9L614.6 403.6L611.1 403.6L608.2 404.1L605.6 404.9L603.2 405.7L601 406.7L599 407.6L596.8 408.1L594.2 407.8L591.5 407.1L588.9 406.9L586.2 407.6L583.6 408.9L581.1 410L578.8 410.9L576.6 411.7L574.5 412.1L572.6 412.1L570.7 411.6L569.3 410.7L568.8 409.1L568.7 407.1L568.1 405.3L566.8 404.1L565 403.2L562.8 402.5L560.1 402L556.9 401.7L553.6 401.5L550.2 401.3L546.5 401.2L543.3 401L540.6 400.9L538.3 400.6L536 400.4L533.6 400L531.3 399.5L529.1 399.3L526.8 399.1L524.6 399.2L523.1 399.8L522.7 400.9L523.1 402.5L523.8 404.5L525.1 407L526.8 409.8L527.7 412.6L527.2 415L526 417.2L524.7 419.4L523.5 421.7L522.2 423.9L520.8 425.4L519.2 425.8L517.5 425.5L515.5 425L513.3 424.3L510.8 423.3L507.9 422.7L504.4 422.6L500.5 423L497.3 423.2L495.5 423.2L494.4 423.1L492.8 422.8L489.8 422.2L486.3 421.5L483.6 420.7L482.7 419.9L482.5 419.1L482.2 418.5L481 418.4L479.6 418.5L478.3 418.2L477.6 417.4L477 416.1L476 414.5L474.3 412.2L472.3 409.5L470.7 406.9L470.3 404.7L470.4 402.7L470 401L468.5 399.7L466.5 398.8L464.7 397.6L463.4 395.9L462.3 393.8L460.9 392L459.1 390.8L457 389.8L454.8 388.2L452.4 385.6L449.7 382.5L447.3 379.5L445.2 377L443.2 374.6L441.2 372.7L439 371.3L436.7 370.2L434.6 369.4L432.7 368.9L430.9 368.5L429.3 368.2L427.7 368L426.2 367.8L425.2 367.2L425.1 366.1L425.5 364.5L426.1 362.9L426.5 361.2L427 359.4L427.6 357.7L428.2 355.8L428.9 354L429.8 352.4L431.2 351.3L432.9 350.4L434.6 349.4L436.3 348.2L437.9 347L439.4 345.9L440.4 344.9L441.1 343.9L442 342.8L443 341.4L444.2 339.9L445.2 338.4L446 336.9L446.7 335.4L447.3 334.1L447.4 332.9L447.4 332Z"/></clipPath>
<g clip-path="url(#clipD)">
<path d="M447.8 331.4L448.8 331.5L450.1 332L451.5 332.4L452.9 332.5L454.3 332.4L455.8 332.3L457.3 332L458.8 331.5L460 331L460.9 330.4L461.6 329.6L462.1 328.9L462.5 328.1L462.8 327.3L463.3 326.7L464.1 326.2L465 325.9L465.9 325.4L466.4 324.4L466.7 323.2L466.9 321.9L466.8 320.3L466.5 318.5L466.8 316.7L467.9 315.2L469.6 313.7L471.6 312.5L473.8 311.8L476.5 311.5L479.4 311L482.5 310.2L486 309.3L489.7 308.2L494.1 306.9L498.7 305.3L502.7 303.9L505.9 302.8L508.4 301.7L510.6 300.7L512.5 299.3L513.9 298L515.1 297.4L515.8 298.4L516.2 300.1L517.2 301.8L519.1 303L521.5 304.2L523.7 305.4L525.5 306.8L527.1 308.2L528.9 309.3L531.1 310L533.5 310.2L535.5 309.9L536.8 309L537.8 307.4L538.8 305L539.9 301L541 296.2L541.9 292.1L542.4 289.9L542.7 288.5L543.3 286.8L544.2 284L545.4 280.8L547.2 278.2L549.7 276.7L552.8 275.7L556.3 275L560.5 274.4L565.1 274.2L569.3 273.9L573.1 273.6L576.6 273.3L579.7 272.8L582.3 272L584.4 271.1L586.3 270.7L587.7 271.3L588.9 272.5L590.2 273.9L591.7 275.5L593.2 277.5L595.4 279.3L598.6 280.8L602.3 282.2L605.9 283.5L609.3 284.6L612.5 285.6L614.9 286.8L616.2 288.4L616.7 290.4L617.6 292.1L619.4 293.7L621.5 295L624.1 296.4L627.4 297.9L631.1 299.3L634.6 300.7L637.3 301.7L639.7 302.7L642.4 303.9L645.8 305.8L649.5 308.1L652.9 310.3L655.7 312.4L658.2 314.4L660.7 316.7L663.4 319.8L666.1 323.1L668.5 326.4L670.4 329.4L672 332.3L673.7 335L675.5 337.8L677.4 340.4L678.9 342.5L680 344L680.8 345.1L681 346.2L680.6 347.5L679.8 348.8L678.9 350.1L678.2 351.1L677.5 352.1L676.9 353.5L676.5 355.7L676.3 358.3L675.6 360.6L674.5 362.1L672.9 363.3L671.1 364.6L668.5 365.9L665.6 367.2L663.3 368.8L661.7 370.8L660.6 373L660.1 375.7L660.2 378.8L660.9 382.4L661.9 386L663.5 389.6L665.5 393.2L667.2 396.8L668.4 400.3L669.3 403.9L669.8 407.5L669.8 411.2L669.4 414.9L668.5 418.2L666.7 421.1L664.3 423.7L661.9 425.7L659.7 427.3L657.5 428.4L655.5 428.9L653.5 428.7L651.7 428L650.3 426.8L649.5 424.9L649.2 422.6L648.9 420.3L648.7 418.1L648.6 415.9L648.1 414.4L646.9 413.8L645.4 413.9L643.7 414.4L642.1 415.4L640.3 416.9L638.4 418.2L636.3 418.9L634.1 419.3L632 419.9L630.1 421.1L628.3 422.4L626.7 422.9L625.1 422.3L623.6 420.9L622.8 419.2L623.3 417.3L624.5 415.1L625.4 412.8L626 410.5L626.4 408.2L626.2 406.4L625.2 405.3L623.7 404.7L621.5 404.3L618.4 403.9L614.6 403.6L611.1 403.6L608.2 404.1L605.6 404.9L603.2 405.7L601 406.7L599 407.6L596.8 408.1L594.2 407.8L591.5 407.1L588.9 406.9L586.2 407.6L583.6 408.9L581.1 410L578.8 410.9L576.6 411.7L574.5 412.1L572.6 412.1L570.7 411.6L569.3 410.7L568.8 409.1L568.7 407.1L568.1 405.3L566.8 404.1L565 403.2L562.8 402.5L560.1 402L556.9 401.7L553.6 401.5L550.2 401.3L546.5 401.2L543.3 401L540.6 400.9L538.3 400.6L536 400.4L533.6 400L531.3 399.5L529.1 399.3L526.8 399.1L524.6 399.2L523.1 399.8L522.7 400.9L523.1 402.5L523.8 404.5L525.1 407L526.8 409.8L527.7 412.6L527.2 415L526 417.2L524.7 419.4L523.5 421.7L522.2 423.9L520.8 425.4L519.2 425.8L517.5 425.5L515.5 425L513.3 424.3L510.8 423.3L507.9 422.7L504.4 422.6L500.5 423L497.3 423.2L495.5 423.2L494.4 423.1L492.8 422.8L489.8 422.2L486.3 421.5L483.6 420.7L482.7 419.9L482.5 419.1L482.2 418.5L481 418.4L479.6 418.5L478.3 418.2L477.6 417.4L477 416.1L476 414.5L474.3 412.2L472.3 409.5L470.7 406.9L470.3 404.7L470.4 402.7L470 401L468.5 399.7L466.5 398.8L464.7 397.6L463.4 395.9L462.3 393.8L460.9 392L459.1 390.8L457 389.8L454.8 388.2L452.4 385.6L449.7 382.5L447.3 379.5L445.2 377L443.2 374.6L441.2 372.7L439 371.3L436.7 370.2L434.6 369.4L432.7 368.9L430.9 368.5L429.3 368.2L427.7 368L426.2 367.8L425.2 367.2L425.1 366.1L425.5 364.5L426.1 362.9L426.5 361.2L427 359.4L427.6 357.7L428.2 355.8L428.9 354L429.8 352.4L431.2 351.3L432.9 350.4L434.6 349.4L436.3 348.2L437.9 347L439.4 345.9L440.4 344.9L441.1 343.9L442 342.8L443 341.4L444.2 339.9L445.2 338.4L446 336.9L446.7 335.4L447.3 334.1L447.4 332.9L447.4 332Z" fill="#2892C7"/>
<path d="M416.5 264.6L687.7 264.6L687.7 434.6L416.5 434.6ZM635.7 285.9L632.6 286.4L629.5 287.1L626.4 288L623.3 289.3L620.1 291L618.1 292.3L616 293.9L613.4 296.2L611.2 298.8L609.8 301L608.6 303.1L607.5 305.6L606.8 308.2L606.3 310.8L606.2 313.3L606.4 316.7L606.9 319.3L607.7 321.9L608.9 324.4L610.5 327L611.8 328.8L614.1 331.3L616 333L619.1 335.2L621.2 336.5L624.3 338L627.4 339.1L630.5 340L633.6 340.6L636.8 340.9L640.9 341L644 340.8L647.2 340.3L650.3 339.6L653.4 338.6L656.5 337.3L659.6 335.6L661.7 334.3L663.8 332.7L666.2 330.4L667.9 328.4L669.5 326.1L671 323.6L672 321L672.8 318.5L673.2 315.9L673.3 312.5L673.1 309.9L672.5 307.4L671.7 304.8L670.5 302.2L668.9 299.7L666.9 297.1L665.3 295.4L663.3 293.7L660.7 291.7L658.2 290.3L655.5 288.9L652.4 287.8L649.2 286.9L646.1 286.2L643 285.9L638.8 285.8Z" fill="#60A3B5" fill-rule="evenodd"/>
<path d="M416.5 264.6L687.7 264.6L687.7 277.6L684.6 275.6L680.4 273.3L676.2 271.4L672.1 269.9L667.9 268.7L663.8 267.8L659.6 267.2L655.5 266.9L650.3 266.8L646.1 267L642 267.5L637.8 268.2L633.6 269.3L629.5 270.6L625.3 272.3L622.2 273.8L617 276.8L611.8 280.7L607.3 285.1L603.3 290.3L600.4 295.1L598.2 300.5L596.7 306.5L596.2 312.5L596.3 315.9L596.7 319.3L598.3 325.3L599.4 328.1L600.9 331.3L602.5 334L604.8 337.2L606.9 339.8L609.8 342.8L614.9 347.1L618.1 349.2L621.2 351L624.3 352.5L628.5 354.3L631.6 355.3L635.7 356.5L639.9 357.4L644 358L648.2 358.3L652.4 358.4L659.6 357.9L666.9 356.6L671.1 355.5L674.6 354.3L678.3 352.8L681.4 351.3L684.6 349.5L687.7 347.5L687.7 434.6L416.5 434.6Z" fill="#8CB8A4" fill-rule="evenodd"/>
<path d="M416.5 264.6L609.8 264.6L605.6 268.9L602.5 272.4L599.4 276.6L596.6 280.9L594.3 285.1L592.4 289.4L590.9 293.7L589.5 298.8L588.7 303.1L588.2 308.2L588.1 313.3L588.4 318.5L589.1 322.7L590.3 327.8L592 333L593.8 337.2L596.9 343.2L600.4 348.4L604.6 353.5L608.7 357.8L613.9 362.4L619.1 366.2L624.3 369.4L630.5 372.7L636.8 375.3L644 377.8L651.3 379.6L658.6 380.9L665.9 381.7L673.1 381.9L680.4 381.6L687.7 380.8L687.7 434.6L416.5 434.6ZM483 367.7L479.9 368.8L477.8 369.8L475.7 371.4L473.4 374L472.4 375.7L471.6 378.2L471.4 380.8L471.8 383.4L472.9 385.9L474.7 388.4L476.8 390.2L478.8 391.5L482 392.7L485.1 393.3L488.2 393.4L491.3 393L494.4 392L496.5 390.9L498.7 389.3L501 386.8L502.3 384.2L503 381.7L503 379.1L502.4 376.5L501.1 374L499.7 372.3L497.8 370.6L494.9 368.8L492.3 367.9L489.2 367.3L486.1 367.3Z" fill="#B7CF90" fill-rule="evenodd"/>
<path d="M416.5 264.6L591.6 264.6L588.7 270.6L586.4 276.6L584.4 282.6L582.9 288.6L581.8 294.5L581 300.5L580.6 306.5L580.6 313.3L581.1 320.2L581.8 326.1L583.2 333L584.7 339L586.9 345.8L589.2 351.8L592.1 358L595.2 363.8L598.3 369L601.4 373.7L604.6 377.8L608.7 382.9L612.9 387.4L617 391.5L621.2 395.2L626.4 399.3L632.6 403.8L639.9 408.4L647.2 412.3L654.4 415.7L661.7 418.7L670 421.6L678.3 423.9L687.7 426L687.7 434.6L416.5 434.6ZM486.1 362.8L483 363.2L480.1 363.7L477.1 364.6L474.9 365.4L472.6 366.5L469.9 368L467.5 369.7L465.6 371.4L463.9 373.1L461.9 375.7L460.9 377.4L459.7 379.9L458.5 384.2L458.2 386.8L458.3 389.3L458.7 391.9L459.4 394.5L460.5 397L461.5 398.7L464.3 402.4L466.4 404.5L468.4 406.1L470.5 407.5L473.6 409.1L475.7 410L478.8 411L484 412L487.1 412.2L490.3 412.2L493.4 411.8L496.5 411.2L499.6 410.3L501.7 409.5L505.9 407.3L507.9 405.9L510.3 403.9L512.1 402L513.8 399.6L515.2 397.2L516 395.3L517.1 391.1L517.4 388.5L517.3 385.9L516.9 383.4L516.1 380.8L514.1 376.5L512.4 374L510.9 372.3L509.2 370.6L507.1 368.8L504.6 367.1L502.7 366.1L500.7 365.2L497.5 364.1L495.5 363.5L492.3 363L489.2 362.8Z" fill="#E0E976" fill-rule="evenodd"/>
<path d="M416.5 264.6L576.2 264.6L574.8 274L573.8 283.4L573.2 292.8L572.9 303.1L573.1 312.5L573.6 321.9L576.4 357.7L576.5 365.4L576.2 372.3L575.8 376.5L575.1 380.8L574 385.1L572.8 388.5L571.3 391.7L570.1 393.6L568.2 396.1L566.1 397.9L565.1 398.5L563 399.4L562 399.6L559.9 399.6L556.8 398.9L553.6 397.3L550.5 395.2L547.4 392.6L533.3 379.1L529.4 375.7L525.2 372.3L521.6 369.7L517.6 367.1L512.8 364.6L509 362.9L504.8 361.4L500.7 360.3L496.5 359.6L493.4 359.3L489.2 359.2L485.1 359.5L479.9 360.2L475.7 361.1L469.9 362.9L463.7 365.4L457.7 368.8L453 372.3L448.4 376.5L444.8 380.8L441.5 385.9L439.2 391.1L437.6 396.2L436.7 402.2L436.7 408.1L437.4 413.3L439.1 419.2L441.3 424.4L444.6 429.9L448.2 434.6L416.5 434.6Z" fill="#FCE45C" fill-rule="evenodd"/>
<path d="M416.5 264.6L560.5 264.6L563 284.9L564.5 301.4L565.3 315.9L565.2 328.7L564.9 333.8L564.2 339L563.4 343.2L562.5 346.6L561.2 350.1L559.9 352.8L558.4 355.2L556.2 357.7L554.7 359.2L553.1 360.3L551.6 361.2L549.5 362.1L547.4 362.8L545.3 363.2L541.2 363.5L537 363.3L531.8 362.6L511.6 357.7L506.9 356.9L501.7 356.1L496.5 355.8L491.3 355.8L485.1 356.3L478.8 357.1L470.8 358.6L462.2 360.6L454.2 362.9L446.7 365.4L438.1 368.8L430.7 372.3L424.1 375.7L416.5 380Z" fill="#FBB344" fill-rule="evenodd"/>
<path d="M416.5 264.6L541.6 264.6L544.3 269.7L547.1 275.7L549.5 281.5L551.4 286.9L552.9 292L554.3 298L555.4 303.9L556 309.1L556.3 314.2L556.3 319.3L555.9 324.4L555.2 328.7L554 333L552.6 336.6L550.5 340.4L548.4 343.2L546.8 344.9L544.7 346.6L542.2 348.3L540.1 349.3L538.1 350.1L534.9 351L531.8 351.6L528.7 352L522.5 352.2L505.9 351.6L497.5 351.7L491.3 352.3L475.7 354.3L467.4 355.2L458.1 355.9L448.7 356.3L440.4 356.4L432.1 356.3L423.8 355.9L416.5 355.3Z" fill="#F88B33" fill-rule="evenodd"/>
<path d="M420.7 283.4L422.7 280.7L425.5 277.5L428.1 274.9L431 272.3L434.2 270L437.2 268.1L443.8 264.6L506.5 264.6L512.1 267.3L517.3 270.2L522.5 273.7L526.6 277.1L530.8 281.1L533.9 284.6L537 288.7L540.1 293.8L542.5 298.8L544.3 303.9L545.3 308.6L545.9 313.3L545.8 318.5L545.1 322.7L543.9 327L542.2 330.4L540.6 333L538.4 335.5L536.6 337.2L533.9 339.2L530.8 340.9L527.7 342.2L524.4 343.2L520.4 344.1L515.2 344.8L500.7 346.2L495.5 347.1L482 349.8L476.8 350.5L472.6 350.8L465.3 350.6L459.1 349.9L452.9 348.6L446.6 346.6L440.8 344.1L436.1 341.5L432.3 339L428.1 335.5L424.7 332.1L421.3 327.8L418.6 323.6L416.6 319.3L416.5 291.4L418.2 287.7Z" fill="#F05A23" fill-rule="evenodd"/>
<path d="M524.6 299L526.6 301L528.3 303.1L529.7 305.3L530.8 307.4L531.8 309.9L532.5 312.5L532.8 315L532.8 317.6L532.4 320.2L531.9 321.9L530.9 324.4L529.7 326.3L528.6 327.8L526.6 329.9L524.6 331.6L522.3 333L518.3 334.8L514.2 335.9L510 336.7L501.7 337.6L498.6 338.3L495.5 339.4L489.3 342.4L485.1 344.1L480.9 345.2L477.8 345.7L475.7 345.9L472.6 345.8L469.5 345.5L466.4 344.7L463.3 343.6L460.7 342.4L458.1 340.7L456 339L453.7 336.4L452.1 333.8L450.9 331.3L450.2 328.7L449.9 326.1L449.9 323.6L450.3 321L451.1 318.5L452.2 315.9L453.7 313.3L455.6 310.8L458 308.2L460.1 306.2L463.3 303.7L466.4 301.6L473.9 297.1L480.9 293.8L487.1 291.7L491.3 290.8L494.4 290.3L497.5 290.1L500.7 290L504.8 290.3L507.9 290.8L511 291.6L514.2 292.7L517.3 294L519.4 295.2L522.3 297.1Z" fill="#E81014" fill-rule="evenodd"/>
</g>
</g>
<g id="pE">
<clipPath id="clipE"><path d="M73.1 576.1L74 576.2L75.2 576.8L76.4 577.2L77.6 577.3L78.9 577.3L80.2 577.1L81.5 576.8L82.8 576.3L83.9 575.6L84.7 574.9L85.2 574L85.7 573.2L86.1 572.3L86.3 571.4L86.7 570.6L87.4 570.1L88.3 569.7L89 569.1L89.4 568L89.7 566.6L89.9 565L89.8 563.2L89.6 561.1L89.8 559.1L90.8 557.3L92.3 555.5L94 554.1L96 553.4L98.3 553L100.8 552.5L103.6 551.6L106.7 550.5L110 549.2L113.7 547.6L117.8 545.9L121.3 544.2L124.1 542.9L126.4 541.7L128.3 540.5L129.9 538.9L131.2 537.3L132.2 536.7L132.8 537.8L133.2 539.8L134 541.8L135.7 543.2L137.8 544.5L139.8 545.9L141.3 547.6L142.7 549.2L144.3 550.5L146.2 551.2L148.3 551.6L150.1 551.2L151.2 550.1L152.1 548.3L153 545.4L154 540.8L154.9 535.2L155.7 530.6L156.1 528L156.4 526.4L156.9 524.3L157.7 521.1L158.8 517.4L160.4 514.4L162.6 512.6L165.3 511.5L168.4 510.7L172 510.1L176 509.7L179.8 509.4L183.1 509L186.2 508.7L188.9 508.2L191.1 507.2L193 506.1L194.6 505.7L195.9 506.4L196.9 507.8L198.1 509.4L199.3 511.3L200.7 513.6L202.6 515.6L205.4 517.4L208.7 519.1L211.8 520.6L214.8 521.8L217.6 523L219.8 524.3L220.8 526.3L221.3 528.5L222.1 530.6L223.6 532.3L225.5 533.9L227.8 535.5L230.7 537.2L234 538.9L237 540.5L239.4 541.7L241.5 542.8L243.8 544.2L246.8 546.4L250.1 549.1L253 551.7L255.5 554L257.7 556.3L259.9 559.1L262.2 562.6L264.6 566.5L266.7 570.3L268.4 573.8L269.8 577.1L271.3 580.3L272.9 583.4L274.6 586.5L275.9 589L276.9 590.7L277.5 592L277.7 593.3L277.4 594.7L276.6 596.3L275.9 597.7L275.3 598.9L274.6 600.1L274.1 601.7L273.8 604.2L273.5 607.3L273 609.9L272 611.7L270.6 613.1L269 614.5L266.8 616.1L264.2 617.6L262.1 619.5L260.8 621.8L259.9 624.4L259.4 627.4L259.5 631.1L260.1 635.2L261 639.4L262.4 643.5L264.1 647.7L265.6 651.9L266.7 656L267.5 660.1L267.9 664.2L267.9 668.5L267.6 672.8L266.7 676.7L265.1 680.1L263 683L261 685.4L259 687.3L257.1 688.5L255.3 689.1L253.6 688.9L252 688L250.8 686.6L250.1 684.5L249.8 681.8L249.6 679.2L249.4 676.6L249.3 674L248.8 672.3L247.8 671.6L246.5 671.7L245 672.3L243.6 673.5L242 675.3L240.4 676.7L238.5 677.5L236.6 678L234.7 678.7L233 680L231.5 681.5L230.1 682.2L228.6 681.4L227.4 679.8L226.7 677.9L227.1 675.7L228.1 673.1L229 670.5L229.5 667.8L229.8 665.2L229.6 663.1L228.8 661.8L227.4 661.1L225.5 660.6L222.8 660.1L219.5 659.7L216.4 659.8L213.9 660.4L211.6 661.3L209.5 662.3L207.5 663.3L205.8 664.4L203.8 665L201.6 664.7L199.2 663.8L196.9 663.6L194.6 664.4L192.3 665.9L190.1 667.2L188 668.3L186.1 669.2L184.3 669.7L182.6 669.6L181 669.1L179.8 668L179.3 666.2L179.2 663.8L178.7 661.8L177.5 660.4L176 659.3L174 658.5L171.6 657.9L168.9 657.6L166 657.3L162.9 657.1L159.8 657L156.9 656.8L154.5 656.6L152.5 656.3L150.5 656L148.5 655.6L146.4 655L144.5 654.7L142.5 654.6L140.5 654.7L139.2 655.3L138.9 656.6L139.2 658.5L139.8 660.8L141 663.7L142.4 667L143.2 670.2L142.8 673L141.7 675.6L140.6 678.1L139.6 680.8L138.4 683.3L137.2 685L135.8 685.5L134.3 685.2L132.6 684.6L130.6 683.8L128.4 682.6L125.9 681.9L122.8 681.9L119.4 682.2L116.6 682.5L115 682.5L114 682.4L112.6 682.1L110 681.4L106.9 680.5L104.6 679.6L103.7 678.7L103.6 677.7L103.3 677L102.3 676.9L101 677L99.9 676.7L99.3 675.7L98.7 674.3L97.9 672.4L96.4 669.7L94.6 666.6L93.3 663.7L92.9 661.1L93 658.7L92.6 656.7L91.3 655.3L89.6 654.2L88 652.9L86.8 650.8L85.8 648.4L84.6 646.3L83.1 644.9L81.3 643.8L79.3 642L77.2 638.9L74.9 635.3L72.7 631.9L70.8 628.9L69.2 626.2L67.4 623.9L65.5 622.3L63.4 621.1L61.6 620.2L59.9 619.5L58.3 619.1L56.9 618.7L55.5 618.5L54.2 618.3L53.4 617.6L53.3 616.3L53.6 614.5L54.1 612.6L54.5 610.6L54.9 608.6L55.5 606.5L56 604.4L56.5 602.3L57.4 600.5L58.6 599.1L60.1 598.1L61.6 596.9L63 595.6L64.5 594.2L65.8 592.9L66.6 591.7L67.3 590.6L68 589.3L69 587.7L70 586L70.9 584.2L71.6 582.5L72.2 580.7L72.7 579.2L72.8 577.9L72.8 576.8Z"/></clipPath>
<g clip-path="url(#clipE)">
<path d="M73.1 576.1L74 576.2L75.2 576.8L76.4 577.2L77.6 577.3L78.9 577.3L80.2 577.1L81.5 576.8L82.8 576.3L83.9 575.6L84.7 574.9L85.2 574L85.7 573.2L86.1 572.3L86.3 571.4L86.7 570.6L87.4 570.1L88.3 569.7L89 569.1L89.4 568L89.7 566.6L89.9 565L89.8 563.2L89.6 561.1L89.8 559.1L90.8 557.3L92.3 555.5L94 554.1L96 553.4L98.3 553L100.8 552.5L103.6 551.6L106.7 550.5L110 549.2L113.7 547.6L117.8 545.9L121.3 544.2L124.1 542.9L126.4 541.7L128.3 540.5L129.9 538.9L131.2 537.3L132.2 536.7L132.8 537.8L133.2 539.8L134 541.8L135.7 543.2L137.8 544.5L139.8 545.9L141.3 547.6L142.7 549.2L144.3 550.5L146.2 551.2L148.3 551.6L150.1 551.2L151.2 550.1L152.1 548.3L153 545.4L154 540.8L154.9 535.2L155.7 530.6L156.1 528L156.4 526.4L156.9 524.3L157.7 521.1L158.8 517.4L160.4 514.4L162.6 512.6L165.3 511.5L168.4 510.7L172 510.1L176 509.7L179.8 509.4L183.1 509L186.2 508.7L188.9 508.2L191.1 507.2L193 506.1L194.6 505.7L195.9 506.4L196.9 507.8L198.1 509.4L199.3 511.3L200.7 513.6L202.6 515.6L205.4 517.4L208.7 519.1L211.8 520.6L214.8 521.8L217.6 523L219.8 524.3L220.8 526.3L221.3 528.5L222.1 530.6L223.6 532.3L225.5 533.9L227.8 535.5L230.7 537.2L234 538.9L237 540.5L239.4 541.7L241.5 542.8L243.8 544.2L246.8 546.4L250.1 549.1L253 551.7L255.5 554L257.7 556.3L259.9 559.1L262.2 562.6L264.6 566.5L266.7 570.3L268.4 573.8L269.8 577.1L271.3 580.3L272.9 583.4L274.6 586.5L275.9 589L276.9 590.7L277.5 592L277.7 593.3L277.4 594.7L276.6 596.3L275.9 597.7L275.3 598.9L274.6 600.1L274.1 601.7L273.8 604.2L273.5 607.3L273 609.9L272 611.7L270.6 613.1L269 614.5L266.8 616.1L264.2 617.6L262.1 619.5L260.8 621.8L259.9 624.4L259.4 627.4L259.5 631.1L260.1 635.2L261 639.4L262.4 643.5L264.1 647.7L265.6 651.9L266.7 656L267.5 660.1L267.9 664.2L267.9 668.5L267.6 672.8L266.7 676.7L265.1 680.1L263 683L261 685.4L259 687.3L257.1 688.5L255.3 689.1L253.6 688.9L252 688L250.8 686.6L250.1 684.5L249.8 681.8L249.6 679.2L249.4 676.6L249.3 674L248.8 672.3L247.8 671.6L246.5 671.7L245 672.3L243.6 673.5L242 675.3L240.4 676.7L238.5 677.5L236.6 678L234.7 678.7L233 680L231.5 681.5L230.1 682.2L228.6 681.4L227.4 679.8L226.7 677.9L227.1 675.7L228.1 673.1L229 670.5L229.5 667.8L229.8 665.2L229.6 663.1L228.8 661.8L227.4 661.1L225.5 660.6L222.8 660.1L219.5 659.7L216.4 659.8L213.9 660.4L211.6 661.3L209.5 662.3L207.5 663.3L205.8 664.4L203.8 665L201.6 664.7L199.2 663.8L196.9 663.6L194.6 664.4L192.3 665.9L190.1 667.2L188 668.3L186.1 669.2L184.3 669.7L182.6 669.6L181 669.1L179.8 668L179.3 666.2L179.2 663.8L178.7 661.8L177.5 660.4L176 659.3L174 658.5L171.6 657.9L168.9 657.6L166 657.3L162.9 657.1L159.8 657L156.9 656.8L154.5 656.6L152.5 656.3L150.5 656L148.5 655.6L146.4 655L144.5 654.7L142.5 654.6L140.5 654.7L139.2 655.3L138.9 656.6L139.2 658.5L139.8 660.8L141 663.7L142.4 667L143.2 670.2L142.8 673L141.7 675.6L140.6 678.1L139.6 680.8L138.4 683.3L137.2 685L135.8 685.5L134.3 685.2L132.6 684.6L130.6 683.8L128.4 682.6L125.9 681.9L122.8 681.9L119.4 682.2L116.6 682.5L115 682.5L114 682.4L112.6 682.1L110 681.4L106.9 680.5L104.6 679.6L103.7 678.7L103.6 677.7L103.3 677L102.3 676.9L101 677L99.9 676.7L99.3 675.7L98.7 674.3L97.9 672.4L96.4 669.7L94.6 666.6L93.3 663.7L92.9 661.1L93 658.7L92.6 656.7L91.3 655.3L89.6 654.2L88 652.9L86.8 650.8L85.8 648.4L84.6 646.3L83.1 644.9L81.3 643.8L79.3 642L77.2 638.9L74.9 635.3L72.7 631.9L70.8 628.9L69.2 626.2L67.4 623.9L65.5 622.3L63.4 621.1L61.6 620.2L59.9 619.5L58.3 619.1L56.9 618.7L55.5 618.5L54.2 618.3L53.4 617.6L53.3 616.3L53.6 614.5L54.1 612.6L54.5 610.6L54.9 608.6L55.5 606.5L56 604.4L56.5 602.3L57.4 600.5L58.6 599.1L60.1 598.1L61.6 596.9L63 595.6L64.5 594.2L65.8 592.9L66.6 591.7L67.3 590.6L68 589.3L69 587.7L70 586L70.9 584.2L71.6 582.5L72.2 580.7L72.7 579.2L72.8 577.9L72.8 576.8Z" fill="#2892C7"/>
<path d="M45.7 498.7L283.6 498.7L283.6 695.7L45.7 695.7ZM104 618.4L101.5 619.5L99.5 620.9L97.7 622.8L95.9 625.4L95.1 627.4L94.4 630.4L94.3 633.4L94.8 636.3L95.8 639.3L97 641.3L98.7 643.3L101.3 645.2L103.1 646L105.9 646.8L108.6 646.8L111.3 646.3L114.1 645L115.9 643.7L117.7 641.8L119.3 639.3L120.1 637.3L120.8 634.3L120.9 631.4L120.5 628.4L119.4 625.4L118.2 623.5L116.6 621.5L114.1 619.5L111.8 618.5L109.5 617.9L106.8 617.9Z" fill="#60A3B5" fill-rule="evenodd"/>
<path d="M45.7 498.7L283.6 498.7L283.6 695.7L45.7 695.7ZM104.9 613.9L102.4 614.5L100.4 615.3L96.7 617.2L95 618.5L93.1 620.2L90.4 623.5L88.2 627.4L86.9 631.4L86.2 635.3L86.1 638.3L86.2 640.3L87 644.2L88.5 648.3L90.9 652.2L92.2 653.7L94 655.5L95.8 656.9L97.7 658.1L101.3 659.7L103.1 660.2L105.9 660.6L108.6 660.6L110.4 660.4L113.1 659.8L115 659.2L118.6 657.3L120.4 656L122.3 654.3L124.9 651.2L127.1 647.2L128.4 643.3L129.1 639.3L129.2 636.3L129.1 634.3L128.6 631.4L128.1 629.4L126.5 625.4L125.4 623.5L124 621.5L121.1 618.5L117.7 616.1L114.1 614.5L111.3 613.9L109.5 613.7L107.7 613.7Z" fill="#8CB8A4" fill-rule="evenodd"/>
<path d="M45.7 498.7L283.6 498.7L283.6 695.7L45.7 695.7ZM109.5 610.3L106.8 610.4L104 610.8L100.8 611.6L97.7 612.7L94.9 613.9L92.2 615.5L89.4 617.5L87.1 619.5L85.2 621.5L82.8 624.4L80.9 627.4L79.4 630.4L78.2 633.4L77.3 636.3L76.5 640.3L76.2 643.3L76.1 647.2L76.4 650.2L76.9 653.2L77.7 656.1L78.7 659.1L80.3 662.5L82.2 665.5L84 667.9L85.8 670L88.5 672.5L90.5 673.9L93.1 675.5L95.8 676.9L98.6 677.9L101.3 678.6L104.9 679.1L108.6 679.2L111.3 678.9L114.1 678.4L116.8 677.6L119.5 676.5L122.3 675.1L125 673.2L127.7 671L130.5 668.1L132.3 665.8L134.1 663L135.6 660.1L136.8 657.1L137.8 654.1L138.4 651.2L139 647.2L139 643.3L138.8 640.3L138.2 636.3L137.4 633.4L136.4 630.4L135.1 627.4L133.4 624.4L131.2 621.5L128.5 618.5L126.3 616.5L123.5 614.5L121.3 613.3L118.6 612.1L115.9 611.2L112.8 610.6Z" fill="#B7CF90" fill-rule="evenodd"/>
<path d="M45.7 498.7L283.6 498.7L283.6 695.7L140.5 695.7L143 692.8L145 690L146.9 687.1L148.6 683.8L150 680.9L151.5 676.9L152.7 673L153.3 670L154.3 663.1L154.4 659.1L154.3 655.1L153.9 651.2L153.2 647.2L152.2 643.3L151.3 640.3L150.1 637.3L148.3 633.4L144.8 627.4L142.7 624.4L140.1 621.5L137.2 618.5L134.9 616.5L132.3 614.5L129.3 612.6L125.9 610.8L123.2 609.6L120.2 608.6L116.8 607.8L114.1 607.5L110.4 607.3L107.7 607.4L104 607.9L100.4 608.6L96.7 609.7L93.1 611L89.5 612.6L85.9 614.5L82.8 616.5L80.1 618.5L76.7 621.5L72.1 626.4L69.9 629.4L67.9 632.4L66.3 635.3L64.4 639.3L63.3 642.3L62.1 646.2L61.2 650.2L60.6 654.1L60.3 658.1L60.3 662.1L60.6 666L61 669L61.8 673L63 676.9L64.4 680.9L65.8 683.8L67.6 687.2L69.4 690.1L71.3 692.8L73.8 695.7L45.7 695.7ZM232.5 543.9L230.7 544.7L228.6 546.2L227.1 547.9L225.6 550.2L224.9 552.2L224.5 554.1L224.3 556.1L224.7 559.1L225.4 561.1L226.4 563.1L228 565.1L229.8 566.6L231.6 567.6L234.3 568.4L237.1 568.5L238.9 568.1L240.7 567.4L242.8 566L244.8 564L246 562.1L246.8 560.1L247.4 557.1L247.4 554.1L246.9 552.2L246.2 550.2L245 548.2L243.5 546.4L241.6 545L239.8 544.1L237.1 543.4L234.3 543.5Z" fill="#E0E976" fill-rule="evenodd"/>
<path d="M45.7 498.7L231.6 498.7L227.1 501.9L222.5 505.7L218.9 509.3L215.2 513.6L212.4 517.5L209.4 522.5L207 527.3L205 532.4L203.4 537.7L202.1 543.3L201.4 548.2L201 554.1L201 560.1L201.5 566L202.5 572L203.8 577.9L206.1 585.3L208.8 592.3L212.5 599.9L217 607.7L221.6 614.3L226.1 619.7L230.7 624.2L236.2 628.6L241.6 631.9L247.1 634.4L252.6 636.2L259 637.4L264.4 637.9L270.8 637.6L277.2 636.6L283.6 634.9L283.6 695.7L201.5 695.7L200.7 688.8L199.3 681.9L197.5 675.9L194.8 669L191.8 663.1L188.2 657.1L184.1 651.2L178.5 644.2L172.2 637.3L165.2 630.4L158.4 624.4L150.7 618.5L143 613.6L136.8 610.2L130.5 607.5L124.1 605.5L119.5 604.6L115 604.2L110.4 604.3L105.9 604.8L99.5 605.9L93.1 607.5L86.1 609.6L80.8 611.6L76.2 613.6L70.4 616.5L65.4 619.5L61.1 622.5L57.3 625.4L52.8 629.4L48.9 633.4L45.7 637Z" fill="#FCE45C" fill-rule="evenodd"/>
<path d="M45.7 498.7L195.5 498.7L193.3 507.4L191.5 516.5L190.1 525.4L189 534.3L188 548.2L187.4 574.9L186.7 584.8L186 589.1L185.1 592.8L184.1 595.7L182.4 599.2L181.4 600.7L179.7 602.7L177.8 604.3L176 605.5L172.4 607L167.8 607.9L162.4 608.1L156.9 607.5L149.6 606.2L135 602.9L128.6 601.6L122.3 600.8L116.8 600.7L112.2 601L106.8 601.7L89.5 604.6L63.6 608.6L45.7 612Z" fill="#FBB344" fill-rule="evenodd"/>
<path d="M45.7 498.7L171.1 498.7L173.1 511.6L174.7 525.4L175.5 539.3L175.7 552.2L175.1 562.1L174 570L173 573.9L172.1 576.9L170.9 579.9L169.6 582.3L168 584.8L166.4 586.8L164.4 588.8L162.4 590.4L160.3 591.8L157.8 593L155.1 594L152.3 594.8L147.8 595.7L142.3 596.1L136.8 596.2L125 595.9L119.5 596.2L114.1 596.9L100.4 599.6L93.1 600.5L87.6 600.6L82.2 600.3L76.5 599.7L70.3 598.5L63.3 596.7L57.3 594.7L52.2 592.8L45.7 589.9Z" fill="#F88B33" fill-rule="evenodd"/>
<path d="M61.8 512.6L64.3 508.6L67.5 504.6L70.3 501.5L73.4 498.7L137.8 498.7L141.4 501.9L145 505.7L148.7 510.3L151.4 514.3L154.2 519L156.7 524.4L158.6 529.4L160.2 534.3L161.4 539.7L162.3 545.2L162.7 550.2L162.8 555.1L162.4 560.1L161.4 565L160.2 569L158.4 573L156.7 575.9L154.3 578.9L152.3 580.9L149.8 582.9L146.9 584.7L144.5 585.8L141.4 587L137.8 588L133.1 588.8L123.2 589.8L119.5 590.4L115.9 591.3L107.7 594.1L104 595.2L100.4 596L96.7 596.3L91.3 596.2L85.8 595.2L81.3 593.6L75.9 590.8L71.8 587.8L68.5 584.8L65 580.9L61.5 575.9L59.3 572L57.1 567L55.5 562.1L54.1 556.1L53.4 551.2L53 545.2L53.3 539.3L54 533.4L55.4 527.4L57 522.5L59.1 517.5Z" fill="#F05A23" fill-rule="evenodd"/>
<path d="M141.4 537.4L143.2 539.8L144.7 542.3L146 544.7L146.9 547.2L148.1 552.2L148.5 555.1L148.5 558.1L148.2 561.1L147.8 563.1L146.9 566L146 568L144.9 570L143.2 572.4L141.4 574.3L139.5 575.9L135.9 578.1L134.1 578.9L131.4 579.8L126.8 580.6L119.5 581.2L116.8 581.8L114.1 583.2L109.3 586.8L106.3 588.8L103.1 590.2L99.5 591.2L96.7 591.3L94.9 591.2L92.8 590.8L90.1 589.8L87.6 588.4L85.5 586.8L83.6 584.8L82.2 582.9L81 580.9L79.8 577.9L79 574.9L78.7 572L78.7 569L79 566L79.7 563.1L80.8 560.1L82.2 557.2L83.4 555.1L84.9 552.9L87.6 549.5L95.8 540.9L99.5 537.5L102.2 535.2L106.8 532.1L109.5 530.6L112.2 529.5L115 528.6L117.7 528.1L120.4 527.9L123.2 527.9L125.9 528.3L128.6 528.9L133.2 530.8L135.9 532.4L137.8 533.8L139.6 535.4Z" fill="#E81014" fill-rule="evenodd"/>
</g>
</g>
<g id="pF">
<clipPath id="clipF"><path d="M446.8 595.2L447.8 595.3L449.1 595.8L450.5 596.2L451.9 596.3L453.4 596.2L454.8 596.1L456.3 595.8L457.8 595.4L459.1 594.8L460 594.2L460.6 593.5L461.2 592.7L461.6 592L461.9 591.2L462.3 590.6L463.2 590.2L464.1 589.9L464.9 589.3L465.4 588.4L465.8 587.3L466 585.9L465.9 584.3L465.6 582.6L465.9 580.9L467 579.4L468.7 577.9L470.7 576.8L473 576.1L475.6 575.8L478.5 575.4L481.7 574.6L485.2 573.7L488.9 572.6L493.3 571.3L497.9 569.8L502 568.4L505.1 567.3L507.7 566.3L509.9 565.3L511.8 564L513.2 562.6L514.4 562.1L515.1 563L515.6 564.7L516.5 566.4L518.4 567.6L520.8 568.7L523.1 569.9L524.9 571.2L526.5 572.6L528.3 573.7L530.5 574.3L532.9 574.6L534.9 574.3L536.2 573.3L537.2 571.8L538.2 569.4L539.3 565.6L540.4 560.9L541.3 557L541.8 554.8L542.1 553.4L542.7 551.7L543.6 549L544.9 545.9L546.7 543.4L549.2 541.9L552.3 540.9L555.9 540.2L560 539.7L564.6 539.4L568.9 539.1L572.7 538.9L576.2 538.6L579.3 538.2L581.9 537.3L584.1 536.4L585.9 536.1L587.4 536.6L588.6 537.8L589.9 539.1L591.3 540.8L592.9 542.6L595.1 544.4L598.3 545.9L602 547.3L605.6 548.6L609 549.6L612.2 550.5L614.7 551.7L616 553.4L616.5 555.2L617.4 557L619.2 558.4L621.3 559.8L623.9 561.1L627.2 562.5L631 564L634.5 565.3L637.2 566.3L639.6 567.2L642.3 568.4L645.7 570.3L649.4 572.5L652.8 574.7L655.6 576.7L658.1 578.6L660.7 580.9L663.4 583.9L666.1 587.2L668.5 590.3L670.4 593.3L672 596.1L673.7 598.7L675.6 601.4L677.5 603.9L679 606.1L680.1 607.5L680.8 608.6L681.1 609.6L680.7 610.9L679.9 612.2L679 613.4L678.3 614.4L677.6 615.4L676.9 616.7L676.6 618.9L676.3 621.4L675.7 623.6L674.5 625.1L673 626.3L671.1 627.5L668.5 628.8L665.6 630.1L663.3 631.7L661.7 633.6L660.6 635.8L660.1 638.4L660.2 641.4L660.9 644.9L661.9 648.4L663.5 651.9L665.5 655.4L667.2 658.9L668.4 662.4L669.4 665.9L669.8 669.3L669.9 672.9L669.5 676.5L668.5 679.8L666.7 682.6L664.3 685.1L661.9 687.1L659.7 688.7L657.5 689.7L655.4 690.2L653.5 690.1L651.6 689.3L650.2 688.1L649.5 686.3L649.1 684.1L648.9 681.9L648.7 679.7L648.5 677.6L648 676.1L646.9 675.5L645.3 675.6L643.6 676.1L642 677.1L640.2 678.6L638.3 679.8L636.2 680.5L634 680.9L631.8 681.5L629.9 682.6L628.1 683.8L626.5 684.4L624.9 683.8L623.4 682.4L622.7 680.8L623.1 678.9L624.3 676.7L625.3 674.6L625.9 672.3L626.2 670.1L626 668.3L625 667.3L623.5 666.7L621.3 666.2L618.2 665.8L614.4 665.5L610.9 665.6L608 666.1L605.4 666.8L602.9 667.7L600.7 668.5L598.7 669.5L596.5 670L593.9 669.7L591.2 669L588.5 668.7L585.9 669.5L583.2 670.7L580.7 671.8L578.4 672.7L576.2 673.5L574.1 673.9L572.1 673.8L570.3 673.4L568.9 672.5L568.3 670.9L568.2 668.9L567.7 667.2L566.3 666.1L564.5 665.2L562.3 664.5L559.6 664L556.4 663.7L553.1 663.5L549.6 663.3L546 663.2L542.7 663.1L540 662.9L537.7 662.7L535.4 662.4L533 662L530.7 661.6L528.5 661.3L526.2 661.2L523.9 661.3L522.5 661.8L522.1 662.9L522.5 664.5L523.2 666.4L524.5 668.8L526.2 671.6L527 674.3L526.6 676.7L525.3 678.9L524 681L522.8 683.2L521.6 685.3L520.2 686.8L518.6 687.2L516.8 687L514.8 686.5L512.6 685.7L510.1 684.8L507.2 684.1L503.7 684.1L499.8 684.4L496.6 684.6L494.8 684.7L493.6 684.6L492 684.3L489 683.7L485.4 683L482.8 682.2L481.8 681.4L481.7 680.6L481.3 680.1L480.2 680L478.7 680.1L477.5 679.8L476.7 679L476.1 677.8L475.2 676.1L473.4 673.9L471.4 671.3L469.8 668.8L469.4 666.7L469.5 664.7L469.1 663L467.6 661.8L465.6 660.9L463.8 659.7L462.5 658L461.3 656L459.9 654.3L458.1 653.1L456.1 652.1L453.9 650.6L451.4 648.1L448.7 645L446.3 642.1L444.1 639.6L442.2 637.3L440.2 635.4L438 634.1L435.7 633.1L433.5 632.3L431.6 631.7L429.8 631.4L428.2 631L426.6 630.8L425.1 630.7L424.1 630.1L424 629L424.4 627.5L425 625.9L425.4 624.2L425.9 622.5L426.5 620.8L427.1 619L427.8 617.3L428.7 615.7L430.1 614.6L431.8 613.7L433.5 612.7L435.2 611.6L436.9 610.4L438.3 609.3L439.3 608.3L440.1 607.4L440.9 606.3L442 605L443.2 603.5L444.2 602.1L445 600.6L445.7 599.1L446.3 597.8L446.4 596.7L446.4 595.8Z"/></clipPath>
<g clip-path="url(#clipF)">
<path d="M446.8 595.2L447.8 595.3L449.1 595.8L450.5 596.2L451.9 596.3L453.4 596.2L454.8 596.1L456.3 595.8L457.8 595.4L459.1 594.8L460 594.2L460.6 593.5L461.2 592.7L461.6 592L461.9 591.2L462.3 590.6L463.2 590.2L464.1 589.9L464.9 589.3L465.4 588.4L465.8 587.3L466 585.9L465.9 584.3L465.6 582.6L465.9 580.9L467 579.4L468.7 577.9L470.7 576.8L473 576.1L475.6 575.8L478.5 575.4L481.7 574.6L485.2 573.7L488.9 572.6L493.3 571.3L497.9 569.8L502 568.4L505.1 567.3L507.7 566.3L509.9 565.3L511.8 564L513.2 562.6L514.4 562.1L515.1 563L515.6 564.7L516.5 566.4L518.4 567.6L520.8 568.7L523.1 569.9L524.9 571.2L526.5 572.6L528.3 573.7L530.5 574.3L532.9 574.6L534.9 574.3L536.2 573.3L537.2 571.8L538.2 569.4L539.3 565.6L540.4 560.9L541.3 557L541.8 554.8L542.1 553.4L542.7 551.7L543.6 549L544.9 545.9L546.7 543.4L549.2 541.9L552.3 540.9L555.9 540.2L560 539.7L564.6 539.4L568.9 539.1L572.7 538.9L576.2 538.6L579.3 538.2L581.9 537.3L584.1 536.4L585.9 536.1L587.4 536.6L588.6 537.8L589.9 539.1L591.3 540.8L592.9 542.6L595.1 544.4L598.3 545.9L602 547.3L605.6 548.6L609 549.6L612.2 550.5L614.7 551.7L616 553.4L616.5 555.2L617.4 557L619.2 558.4L621.3 559.8L623.9 561.1L627.2 562.5L631 564L634.5 565.3L637.2 566.3L639.6 567.2L642.3 568.4L645.7 570.3L649.4 572.5L652.8 574.7L655.6 576.7L658.1 578.6L660.7 580.9L663.4 583.9L666.1 587.2L668.5 590.3L670.4 593.3L672 596.1L673.7 598.7L675.6 601.4L677.5 603.9L679 606.1L680.1 607.5L680.8 608.6L681.1 609.6L680.7 610.9L679.9 612.2L679 613.4L678.3 614.4L677.6 615.4L676.9 616.7L676.6 618.9L676.3 621.4L675.7 623.6L674.5 625.1L673 626.3L671.1 627.5L668.5 628.8L665.6 630.1L663.3 631.7L661.7 633.6L660.6 635.8L660.1 638.4L660.2 641.4L660.9 644.9L661.9 648.4L663.5 651.9L665.5 655.4L667.2 658.9L668.4 662.4L669.4 665.9L669.8 669.3L669.9 672.9L669.5 676.5L668.5 679.8L666.7 682.6L664.3 685.1L661.9 687.1L659.7 688.7L657.5 689.7L655.4 690.2L653.5 690.1L651.6 689.3L650.2 688.1L649.5 686.3L649.1 684.1L648.9 681.9L648.7 679.7L648.5 677.6L648 676.1L646.9 675.5L645.3 675.6L643.6 676.1L642 677.1L640.2 678.6L638.3 679.8L636.2 680.5L634 680.9L631.8 681.5L629.9 682.6L628.1 683.8L626.5 684.4L624.9 683.8L623.4 682.4L622.7 680.8L623.1 678.9L624.3 676.7L625.3 674.6L625.9 672.3L626.2 670.1L626 668.3L625 667.3L623.5 666.7L621.3 666.2L618.2 665.8L614.4 665.5L610.9 665.6L608 666.1L605.4 666.8L602.9 667.7L600.7 668.5L598.7 669.5L596.5 670L593.9 669.7L591.2 669L588.5 668.7L585.9 669.5L583.2 670.7L580.7 671.8L578.4 672.7L576.2 673.5L574.1 673.9L572.1 673.8L570.3 673.4L568.9 672.5L568.3 670.9L568.2 668.9L567.7 667.2L566.3 666.1L564.5 665.2L562.3 664.5L559.6 664L556.4 663.7L553.1 663.5L549.6 663.3L546 663.2L542.7 663.1L540 662.9L537.7 662.7L535.4 662.4L533 662L530.7 661.6L528.5 661.3L526.2 661.2L523.9 661.3L522.5 661.8L522.1 662.9L522.5 664.5L523.2 666.4L524.5 668.8L526.2 671.6L527 674.3L526.6 676.7L525.3 678.9L524 681L522.8 683.2L521.6 685.3L520.2 686.8L518.6 687.2L516.8 687L514.8 686.5L512.6 685.7L510.1 684.8L507.2 684.1L503.7 684.1L499.8 684.4L496.6 684.6L494.8 684.7L493.6 684.6L492 684.3L489 683.7L485.4 683L482.8 682.2L481.8 681.4L481.7 680.6L481.3 680.1L480.2 680L478.7 680.1L477.5 679.8L476.7 679L476.1 677.8L475.2 676.1L473.4 673.9L471.4 671.3L469.8 668.8L469.4 666.7L469.5 664.7L469.1 663L467.6 661.8L465.6 660.9L463.8 659.7L462.5 658L461.3 656L459.9 654.3L458.1 653.1L456.1 652.1L453.9 650.6L451.4 648.1L448.7 645L446.3 642.1L444.1 639.6L442.2 637.3L440.2 635.4L438 634.1L435.7 633.1L433.5 632.3L431.6 631.7L429.8 631.4L428.2 631L426.6 630.8L425.1 630.7L424.1 630.1L424 629L424.4 627.5L425 625.9L425.4 624.2L425.9 622.5L426.5 620.8L427.1 619L427.8 617.3L428.7 615.7L430.1 614.6L431.8 613.7L433.5 612.7L435.2 611.6L436.9 610.4L438.3 609.3L439.3 608.3L440.1 607.4L440.9 606.3L442 605L443.2 603.5L444.2 602.1L445 600.6L445.7 599.1L446.3 597.8L446.4 596.7L446.4 595.8Z" fill="#2892C7"/>
<path d="M415.4 530.2L687.8 530.2L687.8 695.8L415.4 695.8ZM483.5 636.7L482.2 637.7L481.3 639.2L481.3 640.9L481.7 641.7L482.4 642.5L483.2 643.2L484.3 643.6L486.3 643.9L488.4 643.5L489.9 642.5L490.6 641.7L491 640.9L491 639.2L490.5 638.2L489.5 637.1L488.4 636.5L487.4 636.2L485.3 636.2ZM636.6 550.1L633.5 550.5L630.4 551.1L627.3 551.9L624.1 553.1L621 554.6L617.9 556.4L615.8 558L613.3 560.1L611.6 561.9L609.5 564.7L607.8 567.6L606.7 570.1L606 572.6L605.6 575.1L605.4 577.6L605.6 580.9L606.1 583.4L606.9 585.9L608.1 588.4L609.5 590.9L611.6 593.6L613.7 595.8L615.8 597.6L618.9 599.7L621 600.9L624.1 602.4L627.3 603.5L630.4 604.4L633.5 605L636.6 605.4L640.8 605.5L644 605.4L647.1 605L650.2 604.3L653.3 603.5L656.5 602.3L659.4 600.9L662.2 599.2L664.8 597.4L667.4 595.1L669 593.3L670.8 590.9L672.3 588.4L673.5 585.9L674.3 583.4L674.8 580.9L675 578.4L674.9 575.1L674.2 571.8L673.4 569.3L672.2 566.8L670.7 564.3L668.7 561.8L666.9 559.9L664.2 557.6L661.8 556L658.9 554.3L656.5 553.2L653.3 552L650.2 551.1L647.1 550.5L644 550.1L639.8 549.9Z" fill="#60A3B5" fill-rule="evenodd"/>
<path d="M415.4 530.2L687.8 530.2L687.8 539.3L684.7 537.6L680.5 535.7L676.3 534.1L672.1 532.9L668 531.9L663.8 531.2L659.6 530.7L655.4 530.5L650.2 530.5L646 530.8L641.9 531.4L637.7 532.2L633.5 533.3L629.3 534.6L625.2 536.3L622 537.8L618.9 539.5L615.8 541.5L610.6 545.5L606.4 549.6L604.3 552.1L602.2 554.9L599.2 560.1L597 565.7L595.7 570.9L595.2 576.8L595.3 580.1L595.7 583.4L596.4 586.8L597.5 590.1L598.8 593.4L600.1 596L602.1 599.2L603.9 601.7L606.4 604.7L608.5 606.9L613.7 611.4L616.8 613.5L619.9 615.4L623.1 617.1L627.3 618.9L630.4 620.1L634.6 621.4L638.7 622.4L642.9 623.2L650.2 623.9L654.4 623.9L658.6 623.8L662.7 623.3L666.9 622.7L674.2 620.9L681.2 618.4L684.7 616.8L687.8 615.1L687.8 695.8L415.4 695.8ZM481.1 630L478 631.1L475.3 632.5L473.1 634.2L470.9 636.7L469.5 639.2L468.7 641.7L468.6 645L469.2 647.5L470.4 650L472.4 652.5L474.9 654.5L478 656.2L481.1 657.3L484.3 657.8L488.4 657.8L491.6 657.3L494.7 656.2L497.8 654.5L500.3 652.5L502.3 650L503.5 647.5L504.1 645L504.1 641.7L503.4 639.2L502.1 636.7L499.9 634.2L497.8 632.5L494.7 630.9L491.6 629.9L488.4 629.4L485.3 629.3Z" fill="#8CB8A4" fill-rule="evenodd"/>
<path d="M415.4 530.2L607.3 530.2L603.2 534.4L600.1 538.3L597.1 542.6L594.9 546.2L592.8 550.3L590.7 555.3L589.1 560.1L588 565.1L587.2 570.1L586.9 575.1L587 580.1L587.5 585.1L588.5 590.1L589.9 595.1L591.7 600.1L593.5 604.2L596.8 610.1L600.1 615L604.3 620.2L608.5 624.6L613.7 629.3L618.9 633.2L625.2 637.3L631.4 640.6L637.7 643.4L645 646L651.3 647.8L658.6 649.4L665.9 650.4L673.2 651L680.5 651.1L687.8 650.8L687.8 695.8L415.4 695.8ZM485.3 625.8L482.2 626.1L479.1 626.7L476.2 627.5L473.9 628.4L471.7 629.3L469 630.9L466.6 632.5L464.6 634.2L461.6 637.5L460.5 639.2L459.1 641.7L457.8 645.9L457.4 648.3L457.4 650.8L457.7 653.3L458.4 655.8L459.2 657.8L460.4 660L461.5 661.7L463.4 663.9L465.5 665.9L467.5 667.5L471.7 669.9L473.8 670.8L476.9 671.9L482.2 672.9L485.3 673.2L488.4 673.2L493.6 672.6L496.8 671.8L498.9 671.2L501.7 670L504.1 668.8L506.2 667.4L508.3 665.8L510.3 663.8L512.1 661.7L513.5 659.5L514.5 657.5L515.8 653.3L516.1 650.8L516.1 648.3L515.8 645.9L515.1 643.4L513.2 639.2L511.5 636.7L510.1 635L508.4 633.4L506.3 631.7L503.8 630L502 629.1L499.9 628.1L496.8 627L494.7 626.5L491.6 626L488.4 625.7Z" fill="#B7CF90" fill-rule="evenodd"/>
<path d="M415.4 530.2L589.1 530.2L586.6 536L584.8 541L583.2 546L581.7 551.8L580.7 556.8L579.9 562.6L579.4 568.4L579.2 574.3L579.3 580.1L579.8 585.9L580.5 591.8L581.5 597.6L582.7 603.4L584.5 610.3L588.6 623.5L591.1 630L593.8 636.9L599.1 647.8L601.7 652.5L604.8 657.5L607.7 661.7L610.9 665.8L614.7 670.2L618.9 674.6L623.1 678.5L627.3 682L631.4 685.2L636.6 688.9L641.9 692.3L647.9 695.8L515.5 695.8L518.7 694.1L521.4 692.5L523.9 690.6L526.7 688.3L529.1 685.8L531.1 683.3L532.8 680.8L534.1 678.3L535.2 675.8L536.2 672.5L536.7 670L537 666.7L537 664.2L536.6 660.8L535.9 657.5L534.9 654.2L533.5 650.8L531.7 647.5L529.5 644.2L527.7 641.7L523 636.7L520.2 634.2L516.9 631.7L513 629.2L509.8 627.5L506.2 626L503.5 625L499.9 624L495.7 623.3L492.6 622.9L488.4 622.8L484.3 623L481 623.4L476.9 624.1L472.8 625.2L468.6 626.6L465.5 627.9L461.3 630L458.5 631.7L456.2 633.4L453.1 635.9L450.5 638.4L448.3 640.9L446.5 643.4L444.5 646.7L443.4 649.2L442.2 652.5L441.5 655L441 658.3L440.9 661.7L441.1 665L441.6 668.3L442.5 671.5L443.5 674.2L445.1 677.5L447.2 680.8L449.2 683.3L451.4 685.8L454 688.2L459.2 692.1L462.3 694L465.9 695.8L415.4 695.8Z" fill="#E0E976" fill-rule="evenodd"/>
<path d="M415.4 530.2L573.6 530.2L572.2 544.3L571.5 559.3L571.5 573.4L572.2 600.9L572.2 606.7L571.9 611.7L570.9 618.4L569.5 623.4L567.5 627.5L566.4 629.2L564.6 631.2L563.1 632.5L561.5 633.6L559.4 634.6L557.3 635.2L555.2 635.6L553.1 635.8L549 635.6L544.8 634.8L540.6 633.6L534.4 631.3L518.3 625L511.4 622.8L505.1 621.3L498.9 620.3L492.6 620L485.3 620.3L478 621.2L468.6 623.1L464.3 624.2L458.9 625.9L450.3 629.2L446.7 630.9L441.9 633.4L437.7 635.9L433.9 638.4L427.4 643.4L421.1 649.2L415.4 655.7Z" fill="#FCE45C" fill-rule="evenodd"/>
<path d="M415.4 530.2L557.4 530.2L560.2 545.1L562.1 559.3L563.2 572.6L563.4 584.3L563.2 589.3L562.7 594.2L562 598.4L561.1 601.7L560 605.1L558.5 608.4L556.9 610.9L555.2 613L552.1 615.8L549 617.7L546.9 618.6L544.8 619.3L542.7 619.8L539.6 620.2L534.4 620.4L529.1 620.2L523.9 619.6L510.3 617.7L503 617L496.8 616.8L490.5 617.1L478 618.5L452.9 622.2L435.7 625L415.4 628.9Z" fill="#FBB344" fill-rule="evenodd"/>
<path d="M415.4 530.2L537.3 530.2L540.6 535.1L543.1 539.3L545.8 544.6L548 549.3L550 554.7L551.7 560.1L552.9 565.1L553.7 570.1L554.2 575.1L554.4 580.1L554 585.1L553.4 589.3L552.2 593.4L550.9 596.7L549 600.1L547.1 602.6L545.6 604.2L543.7 605.8L541.7 607.3L539.6 608.5L537.5 609.5L534.4 610.6L529.4 611.7L525 612.3L520.8 612.6L505.1 612.7L498.9 613L492.6 613.6L476.9 615.8L467.5 616.6L461.3 616.7L454 616.5L446.7 616L440.4 615.2L434.1 614.1L426.9 612.6L420.8 610.9L415.4 609.1Z" fill="#F88B33" fill-rule="evenodd"/>
<path d="M433.1 550.7L436.2 547.3L439.5 544.3L443.5 541.3L447.7 538.8L451.9 536.6L457.1 534.5L462.3 532.9L467.5 531.7L472.8 530.9L478 530.5L483.2 530.4L488.4 530.7L493.6 531.4L498.9 532.5L504.1 533.9L509.3 535.8L514.5 538.1L518.7 540.4L522.9 543.2L527 546.4L531.2 550.4L534.4 554L537 557.6L539.4 561.8L541.3 565.9L542.6 570.1L543.5 574.3L543.8 578.4L543.6 582.6L542.8 586.8L541.6 590.1L539.8 593.4L537.9 595.9L536.3 597.6L534.4 599.3L531.2 601.4L528.1 602.9L525 604.1L521.8 605L518.7 605.7L513.5 606.4L499.9 607.8L495.7 608.6L482.6 611.7L478 612.4L473.8 612.8L467.5 612.7L462.3 612.1L456.5 610.9L451.4 609.2L445.9 606.7L441.7 604.2L438.4 601.7L434.7 598.4L431.8 595.1L429.5 591.8L427.2 587.6L425.7 583.4L424.7 579.3L424.3 575.1L424.4 570.9L425.1 566.8L426.2 562.6L428 558.5L430.4 554.3Z" fill="#F05A23" fill-rule="evenodd"/>
<path d="M523.9 565.5L526 567.6L527.3 569.3L528.4 570.9L529.6 573.4L530.2 575.1L530.8 577.6L531 580.1L530.9 581.8L530.5 584.3L529.9 585.9L528.7 588.4L527.6 590.1L526.2 591.8L524.4 593.4L522.9 594.5L520.5 595.9L516.6 597.5L512.4 598.6L508.3 599.2L499.9 599.8L496.8 600.5L493.6 601.7L487.6 605.1L483.7 606.7L480.1 607.8L475.9 608.4L472.8 608.4L469.6 608L467.4 607.6L464.4 606.6L461.3 605.1L459.2 603.7L457 601.7L455.5 600.1L454.4 598.4L453.2 595.9L452.5 593.4L452.3 590.9L452.5 588.4L453 585.9L454 583.4L455.4 580.9L457.1 578.7L458.9 576.8L463.4 573L471.7 567.4L480.1 562.6L485.6 560.1L488.4 559.1L491.6 558.3L494.7 557.7L497.8 557.3L503 557.2L506.2 557.5L509.3 558L512.4 558.9L514.5 559.6L517.7 561.1L519.7 562.3L521.8 563.7Z" fill="#E81014" fill-rule="evenodd"/>
</g>
</g>
<line x1="5.5" y1="9.8" x2="308.8" y2="9.8" stroke="#c8c8c8" stroke-width="1.7"/>
<line x1="5.5" y1="9.5" x2="5.5" y2="239.5" stroke="#8a8a8a" stroke-width="1.3"/>
<line x1="5.5" y1="238.9" x2="308.8" y2="238.9" stroke="#c4c4c4" stroke-width="1.7"/>
<line x1="308.5" y1="9.3" x2="308.5" y2="239.6" stroke="#808080" stroke-width="1.1"/>
<text transform="translate(17 8) scale(1.000 1)" class="t" style="font-size:4.40px" text-anchor="middle">245000</text>
<line x1="17" y1="8.4" x2="17" y2="10" stroke="#555" stroke-width="0.5"/>
<text transform="translate(66.2 8) scale(1.000 1)" class="t" style="font-size:4.40px" text-anchor="middle">260000</text>
<line x1="66.2" y1="8.4" x2="66.2" y2="10" stroke="#555" stroke-width="0.5"/>
<text transform="translate(115.4 8) scale(1.000 1)" class="t" style="font-size:4.40px" text-anchor="middle">275000</text>
<line x1="115.4" y1="8.4" x2="115.4" y2="10" stroke="#555" stroke-width="0.5"/>
<text transform="translate(164.6 8) scale(1.000 1)" class="t" style="font-size:4.40px" text-anchor="middle">290000</text>
<line x1="164.6" y1="8.4" x2="164.6" y2="10" stroke="#555" stroke-width="0.5"/>
<text transform="translate(213.8 8) scale(1.000 1)" class="t" style="font-size:4.40px" text-anchor="middle">305000</text>
<line x1="213.8" y1="8.4" x2="213.8" y2="10" stroke="#555" stroke-width="0.5"/>
<text transform="translate(263 8) scale(1.000 1)" class="t" style="font-size:4.40px" text-anchor="middle">320000</text>
<line x1="263" y1="8.4" x2="263" y2="10" stroke="#555" stroke-width="0.5"/>
<text transform="translate(313.7 31.2) rotate(-90) scale(1 1.000)" class="t" style="font-size:4.70px" text-anchor="middle">3880000</text>
<line x1="308.5" y1="31.2" x2="310.1" y2="31.2" stroke="#555" stroke-width="0.5"/>
<text transform="translate(313.7 80.4) rotate(-90) scale(1 1.000)" class="t" style="font-size:4.70px" text-anchor="middle">3865000</text>
<line x1="308.5" y1="80.4" x2="310.1" y2="80.4" stroke="#555" stroke-width="0.5"/>
<text transform="translate(313.7 129.6) rotate(-90) scale(1 1.000)" class="t" style="font-size:4.70px" text-anchor="middle">3850000</text>
<line x1="308.5" y1="129.6" x2="310.1" y2="129.6" stroke="#555" stroke-width="0.5"/>
<text transform="translate(313.7 178.8) rotate(-90) scale(1 1.000)" class="t" style="font-size:4.70px" text-anchor="middle">3835000</text>
<line x1="308.5" y1="178.8" x2="310.1" y2="178.8" stroke="#555" stroke-width="0.5"/>
<text transform="translate(313.7 228) rotate(-90) scale(1 1.000)" class="t" style="font-size:4.70px" text-anchor="middle">3820000</text>
<line x1="308.5" y1="228" x2="310.1" y2="228" stroke="#555" stroke-width="0.5"/>
<text transform="translate(9.3 20.8) scale(1.000 1)" class="pl" style="font-size:9.20px">A</text>
<path d="M294.5 21.2L288.9 38L294.5 36.3L300.1 38.3Z" fill="#fff" stroke="#555" stroke-width="0.3" stroke-linejoin="miter"/>
<path d="M294.5 21.2L300.1 38.3L294.5 36.3L288.9 38" fill="none" stroke="#111" stroke-width="0.75"/>
<text transform="translate(295.3 44.6) scale(1.000 1)" class="n" style="font-size:7.00px" text-anchor="middle">N</text>
<text transform="translate(15 197) scale(1.000 1)" class="lt" style="font-size:7.20px">Flourid conc. (Mg/l)</text>
<rect x="14.9" y="204.1" width="14.7" height="7.3" fill="#4FEA00"/>
<text transform="translate(32 209.9) scale(1.000 1)" class="li" style="font-size:6.40px">0.3 – 1</text>
<rect x="14.9" y="216.2" width="14.7" height="7.3" fill="#E8121A"/>
<text transform="translate(32 222) scale(1.000 1)" class="li" style="font-size:6.40px">1 – 4</text>
<rect x="134.4" y="233.5" width="65.2" height="2.3" fill="#fff" stroke="#000" stroke-width="0.3"/>
<rect x="134.4" y="233.5" width="4.1" height="2.3" fill="#000"/>
<rect x="142.6" y="233.5" width="4.1" height="2.3" fill="#000"/>
<rect x="150.7" y="233.5" width="16.3" height="2.3" fill="#000"/>
<rect x="183.3" y="233.5" width="16.3" height="2.3" fill="#000"/>
<text transform="translate(134.4 231.3) scale(1.000 1)" class="sb" style="font-size:4.20px" text-anchor="middle">0</text>
<text transform="translate(142.6 231.3) scale(1.000 1)" class="sb" style="font-size:4.20px" text-anchor="middle">2.5</text>
<text transform="translate(150.7 231.3) scale(1.000 1)" class="sb" style="font-size:4.20px" text-anchor="middle">5</text>
<text transform="translate(167 231.3) scale(1.000 1)" class="sb" style="font-size:4.20px" text-anchor="middle">10</text>
<text transform="translate(183.3 231.3) scale(1.000 1)" class="sb" style="font-size:4.20px" text-anchor="middle">15</text>
<text transform="translate(199.6 231.3) scale(1.000 1)" class="sb" style="font-size:4.20px" text-anchor="middle">20</text>
<text transform="translate(200.8 236) scale(1.000 1)" class="sb" style="font-size:4.79px">Kilometers</text>
<circle cx="137.6" cy="71.1" r="1.4" fill="#000"/>
<text transform="translate(138.2 69.2) scale(1.000 1)" class="w" style="font-size:7.00px">W1</text>
<circle cx="107.5" cy="88.4" r="1.4" fill="#000"/>
<text transform="translate(108.1 86.5) scale(1.000 1)" class="w" style="font-size:7.00px">W2</text>
<circle cx="117.8" cy="139.6" r="1.4" fill="#000"/>
<text transform="translate(118.4 137.7) scale(1.000 1)" class="w" style="font-size:7.00px">W3</text>
<circle cx="257.4" cy="65.8" r="1.4" fill="#000"/>
<text transform="translate(258 63.9) scale(1.000 1)" class="w" style="font-size:7.00px">W4</text>
<line x1="659.6" y1="10.2" x2="659.6" y2="245" stroke="#444" stroke-width="0.9"/>
<line x1="365.6" y1="244.5" x2="660" y2="244.5" stroke="#aaa" stroke-width="1.0"/>
<text transform="translate(377.4 8.4) scale(0.946 1)" class="t" style="font-size:4.55px" text-anchor="middle">245000</text>
<line x1="377.4" y1="8.9" x2="377.4" y2="10.5" stroke="#555" stroke-width="0.5"/>
<text transform="translate(425.2 8.4) scale(0.946 1)" class="t" style="font-size:4.55px" text-anchor="middle">260000</text>
<line x1="425.2" y1="8.9" x2="425.2" y2="10.5" stroke="#555" stroke-width="0.5"/>
<text transform="translate(473 8.4) scale(0.946 1)" class="t" style="font-size:4.55px" text-anchor="middle">275000</text>
<line x1="473" y1="8.9" x2="473" y2="10.5" stroke="#555" stroke-width="0.5"/>
<text transform="translate(520.8 8.4) scale(0.946 1)" class="t" style="font-size:4.55px" text-anchor="middle">290000</text>
<line x1="520.8" y1="8.9" x2="520.8" y2="10.5" stroke="#555" stroke-width="0.5"/>
<text transform="translate(568.6 8.4) scale(0.946 1)" class="t" style="font-size:4.55px" text-anchor="middle">305000</text>
<line x1="568.6" y1="8.9" x2="568.6" y2="10.5" stroke="#555" stroke-width="0.5"/>
<text transform="translate(616.4 8.4) scale(0.946 1)" class="t" style="font-size:4.55px" text-anchor="middle">320000</text>
<line x1="616.4" y1="8.9" x2="616.4" y2="10.5" stroke="#555" stroke-width="0.5"/>
<text transform="translate(664.7 31.8) rotate(-90) scale(1 0.946)" class="t" style="font-size:4.50px" text-anchor="middle">3880000</text>
<line x1="659.6" y1="31.8" x2="661.2" y2="31.8" stroke="#555" stroke-width="0.5"/>
<text transform="translate(664.7 82.1) rotate(-90) scale(1 0.946)" class="t" style="font-size:4.50px" text-anchor="middle">3865000</text>
<line x1="659.6" y1="82.1" x2="661.2" y2="82.1" stroke="#555" stroke-width="0.5"/>
<text transform="translate(664.7 132.4) rotate(-90) scale(1 0.946)" class="t" style="font-size:4.50px" text-anchor="middle">3850000</text>
<line x1="659.6" y1="132.4" x2="661.2" y2="132.4" stroke="#555" stroke-width="0.5"/>
<text transform="translate(664.7 182.7) rotate(-90) scale(1 0.946)" class="t" style="font-size:4.50px" text-anchor="middle">3835000</text>
<line x1="659.6" y1="182.7" x2="661.2" y2="182.7" stroke="#555" stroke-width="0.5"/>
<text transform="translate(664.7 233) rotate(-90) scale(1 0.946)" class="t" style="font-size:4.50px" text-anchor="middle">3820000</text>
<line x1="659.6" y1="233" x2="661.2" y2="233" stroke="#555" stroke-width="0.5"/>
<text transform="translate(369.7 20.6) scale(0.946 1)" class="pl" style="font-size:7.60px">B</text>
<path d="M647 22.6L641.6 39L647 37.4L652.4 39.3Z" fill="#fff" stroke="#555" stroke-width="0.3" stroke-linejoin="miter"/>
<path d="M647 22.6L652.4 39.3L647 37.4L641.6 39" fill="none" stroke="#111" stroke-width="0.75"/>
<text transform="translate(647.8 46) scale(0.946 1)" class="n" style="font-size:7.19px" text-anchor="middle">N</text>
<text transform="translate(369.9 141.3) scale(0.946 1)" class="lt" style="font-size:6.55px">F-conc  in soil(mg/kg)</text>
<rect x="369.4" y="145.2" width="13.8" height="7" fill="#FFFF80"/>
<text transform="translate(386.2 150.5) scale(0.946 1)" class="li" style="font-size:5.50px">96 – 97.9</text>
<rect x="369.4" y="155.2" width="13.8" height="7" fill="#FDEB70"/>
<text transform="translate(386.2 160.5) scale(0.946 1)" class="li" style="font-size:5.50px">97.9 – 99.8</text>
<rect x="369.4" y="165.2" width="13.8" height="7" fill="#FBD960"/>
<text transform="translate(386.2 170.5) scale(0.946 1)" class="li" style="font-size:5.50px">99.8 – 101.7</text>
<rect x="369.4" y="175.2" width="13.8" height="7" fill="#F8C650"/>
<text transform="translate(386.2 180.5) scale(0.946 1)" class="li" style="font-size:5.50px">101.7 – 103.6</text>
<rect x="369.4" y="185.2" width="13.8" height="7" fill="#F5B23E"/>
<text transform="translate(386.2 190.5) scale(0.946 1)" class="li" style="font-size:5.50px">103.6 – 105.5</text>
<rect x="369.4" y="195.2" width="13.8" height="7" fill="#EB9C31"/>
<text transform="translate(386.2 200.5) scale(0.946 1)" class="li" style="font-size:5.50px">105.5 – 107.4</text>
<rect x="369.4" y="205.2" width="13.8" height="7" fill="#C8731F"/>
<text transform="translate(386.2 210.5) scale(0.946 1)" class="li" style="font-size:5.50px">107.4 – 109.3</text>
<rect x="369.4" y="215.2" width="13.8" height="7" fill="#A84E12"/>
<text transform="translate(386.2 220.5) scale(0.946 1)" class="li" style="font-size:5.50px">109.3 – 111.2</text>
<rect x="369.4" y="225.2" width="13.8" height="7" fill="#8A2A0B"/>
<text transform="translate(386.2 230.5) scale(0.946 1)" class="li" style="font-size:5.50px">111.2 – 113.1</text>
<rect x="369.4" y="235.2" width="13.8" height="7" fill="#6B0000"/>
<text transform="translate(386.2 240.5) scale(0.946 1)" class="li" style="font-size:5.50px">113.1 – 115</text>
<rect x="490" y="239.3" width="63.2" height="2.5" fill="#fff" stroke="#000" stroke-width="0.3"/>
<rect x="490" y="239.3" width="4" height="2.5" fill="#000"/>
<rect x="497.9" y="239.3" width="4" height="2.5" fill="#000"/>
<rect x="505.8" y="239.3" width="15.8" height="2.5" fill="#000"/>
<rect x="537.4" y="239.3" width="15.8" height="2.5" fill="#000"/>
<text transform="translate(490 237) scale(0.946 1)" class="sb" style="font-size:4.20px" text-anchor="middle">0</text>
<text transform="translate(497.9 237) scale(0.946 1)" class="sb" style="font-size:4.20px" text-anchor="middle">2.5</text>
<text transform="translate(505.8 237) scale(0.946 1)" class="sb" style="font-size:4.20px" text-anchor="middle">5</text>
<text transform="translate(521.6 237) scale(0.946 1)" class="sb" style="font-size:4.20px" text-anchor="middle">10</text>
<text transform="translate(537.4 237) scale(0.946 1)" class="sb" style="font-size:4.20px" text-anchor="middle">15</text>
<text transform="translate(553.2 237) scale(0.946 1)" class="sb" style="font-size:4.20px" text-anchor="middle">20</text>
<text transform="translate(554.4 242) scale(0.946 1)" class="sb" style="font-size:4.79px">Kilometers</text>
<circle cx="494.7" cy="72.8" r="1.4" fill="#000"/>
<text transform="translate(495.3 70.9) scale(0.946 1)" class="w" style="font-size:7.40px">W1</text>
<circle cx="465.6" cy="90.4" r="1.4" fill="#000"/>
<text transform="translate(466.2 88.5) scale(0.946 1)" class="w" style="font-size:7.40px">W2</text>
<circle cx="475.6" cy="142.5" r="1.4" fill="#000"/>
<text transform="translate(476.2 140.6) scale(0.946 1)" class="w" style="font-size:7.40px">W3</text>
<circle cx="610.8" cy="67.4" r="1.4" fill="#000"/>
<text transform="translate(611.4 65.5) scale(0.946 1)" class="w" style="font-size:7.40px">W4</text>
<line x1="7.6" y1="268.7" x2="341" y2="268.7" stroke="#444" stroke-width="1.0"/>
<line x1="8.2" y1="268.7" x2="8.2" y2="478.8" stroke="#777" stroke-width="1.3"/>
<line x1="7.6" y1="478.2" x2="342" y2="478.2" stroke="#777" stroke-width="1.3"/>
<text transform="translate(23.9 267) scale(1.210 1)" class="t" style="font-size:4.05px" text-anchor="middle">245000</text>
<line x1="23.9" y1="267.3" x2="23.9" y2="268.9" stroke="#555" stroke-width="0.5"/>
<text transform="translate(78.1 267) scale(1.210 1)" class="t" style="font-size:4.05px" text-anchor="middle">260000</text>
<line x1="78.1" y1="267.3" x2="78.1" y2="268.9" stroke="#555" stroke-width="0.5"/>
<text transform="translate(132.3 267) scale(1.210 1)" class="t" style="font-size:4.05px" text-anchor="middle">275000</text>
<line x1="132.3" y1="267.3" x2="132.3" y2="268.9" stroke="#555" stroke-width="0.5"/>
<text transform="translate(186.5 267) scale(1.210 1)" class="t" style="font-size:4.05px" text-anchor="middle">290000</text>
<line x1="186.5" y1="267.3" x2="186.5" y2="268.9" stroke="#555" stroke-width="0.5"/>
<text transform="translate(240.7 267) scale(1.210 1)" class="t" style="font-size:4.05px" text-anchor="middle">305000</text>
<line x1="240.7" y1="267.3" x2="240.7" y2="268.9" stroke="#555" stroke-width="0.5"/>
<text transform="translate(294.9 267) scale(1.210 1)" class="t" style="font-size:4.05px" text-anchor="middle">320000</text>
<line x1="294.9" y1="267.3" x2="294.9" y2="268.9" stroke="#555" stroke-width="0.5"/>
<text transform="translate(11.8 277.7) scale(1.210 1)" class="pl" style="font-size:9.30px">C</text>
<path d="M326.5 279.7L320.4 294L326.5 292.6L332.6 294.3Z" fill="#fff" stroke="#555" stroke-width="0.3" stroke-linejoin="miter"/>
<path d="M326.5 279.7L332.6 294.3L326.5 292.6L320.4 294" fill="none" stroke="#111" stroke-width="0.75"/>
<text transform="translate(327.3 301.2) scale(1.210 1)" class="n" style="font-size:6.86px" text-anchor="middle">N</text>
<text transform="translate(11.3 392.6) scale(1.210 1)" class="lt" style="font-size:6.20px">F-conc in tomato(µg/kg)</text>
<rect x="12.3" y="394.9" width="14.6" height="5.9" fill="#2892C7"/>
<text transform="translate(29.7 399.7) scale(1.000 1)" class="li" style="font-size:5.70px">2100 – 2128</text>
<rect x="12.3" y="403.1" width="14.6" height="5.9" fill="#60A3B5"/>
<text transform="translate(29.7 407.9) scale(1.000 1)" class="li" style="font-size:5.70px">2128 – 2156</text>
<rect x="12.3" y="411.3" width="14.6" height="5.9" fill="#8CB8A4"/>
<text transform="translate(29.7 416.1) scale(1.000 1)" class="li" style="font-size:5.70px">2156 – 2184</text>
<rect x="12.3" y="419.4" width="14.6" height="5.9" fill="#B7CF90"/>
<text transform="translate(29.7 424.3) scale(1.000 1)" class="li" style="font-size:5.70px">2184 – 2212</text>
<rect x="12.3" y="427.6" width="14.6" height="5.9" fill="#E0E976"/>
<text transform="translate(29.7 432.5) scale(1.000 1)" class="li" style="font-size:5.70px">2212 – 2240</text>
<rect x="12.3" y="435.8" width="14.6" height="5.9" fill="#FCE45C"/>
<text transform="translate(29.7 440.6) scale(1.000 1)" class="li" style="font-size:5.70px">2240 – 2268</text>
<rect x="12.3" y="444" width="14.6" height="5.9" fill="#FBB344"/>
<text transform="translate(29.7 448.8) scale(1.000 1)" class="li" style="font-size:5.70px">2268 – 2296</text>
<rect x="12.3" y="452.2" width="14.6" height="5.9" fill="#F88B33"/>
<text transform="translate(29.7 457) scale(1.000 1)" class="li" style="font-size:5.70px">2296 – 2324</text>
<rect x="12.3" y="460.3" width="14.6" height="5.9" fill="#F05A23"/>
<text transform="translate(29.7 465.2) scale(1.000 1)" class="li" style="font-size:5.70px">2324 – 2352</text>
<rect x="12.3" y="468.5" width="14.6" height="5.9" fill="#E81014"/>
<text transform="translate(29.7 473.4) scale(1.000 1)" class="li" style="font-size:5.70px">2352 – 2380</text>
<rect x="150.2" y="473" width="71.3" height="2.5" fill="#fff" stroke="#000" stroke-width="0.3"/>
<rect x="150.2" y="473" width="4.5" height="2.5" fill="#000"/>
<rect x="159.1" y="473" width="4.5" height="2.5" fill="#000"/>
<rect x="168" y="473" width="17.8" height="2.5" fill="#000"/>
<rect x="203.7" y="473" width="17.8" height="2.5" fill="#000"/>
<text transform="translate(150.2 470.6) scale(1.210 1)" class="sb" style="font-size:4.20px" text-anchor="middle">0</text>
<text transform="translate(159.1 470.6) scale(1.210 1)" class="sb" style="font-size:4.20px" text-anchor="middle">2.5</text>
<text transform="translate(168 470.6) scale(1.210 1)" class="sb" style="font-size:4.20px" text-anchor="middle">5</text>
<text transform="translate(185.8 470.6) scale(1.210 1)" class="sb" style="font-size:4.20px" text-anchor="middle">10</text>
<text transform="translate(203.7 470.6) scale(1.210 1)" class="sb" style="font-size:4.20px" text-anchor="middle">15</text>
<text transform="translate(221.5 470.6) scale(1.210 1)" class="sb" style="font-size:4.20px" text-anchor="middle">20</text>
<text transform="translate(222.7 475.7) scale(1.210 1)" class="sb" style="font-size:4.21px">Kilometers</text>
<circle cx="156" cy="322.3" r="1.4" fill="#000"/>
<text transform="translate(156.6 321) scale(1.000 1)" class="w" style="font-size:7.50px">W1</text>
<circle cx="122.9" cy="338.1" r="1.4" fill="#000"/>
<text transform="translate(123.5 336.8) scale(1.000 1)" class="w" style="font-size:7.50px">W2</text>
<circle cx="134.2" cy="384.8" r="1.4" fill="#000"/>
<text transform="translate(134.8 383.5) scale(1.000 1)" class="w" style="font-size:7.50px">W3</text>
<circle cx="287.4" cy="317.5" r="1.4" fill="#000"/>
<text transform="translate(288 316.2) scale(1.000 1)" class="w" style="font-size:7.50px">W4</text>
<line x1="366.9" y1="268.3" x2="684.3" y2="268.3" stroke="#444" stroke-width="1.0"/>
<line x1="683.8" y1="268.1" x2="683.8" y2="464" stroke="#777" stroke-width="1.1"/>
<text transform="translate(382 266.9) scale(1.210 1)" class="t" style="font-size:3.80px" text-anchor="middle">245000</text>
<line x1="382" y1="266.5" x2="382" y2="268.1" stroke="#555" stroke-width="0.5"/>
<text transform="translate(433.2 266.9) scale(1.210 1)" class="t" style="font-size:3.80px" text-anchor="middle">260000</text>
<line x1="433.2" y1="266.5" x2="433.2" y2="268.1" stroke="#555" stroke-width="0.5"/>
<text transform="translate(484.4 266.9) scale(1.210 1)" class="t" style="font-size:3.80px" text-anchor="middle">275000</text>
<line x1="484.4" y1="266.5" x2="484.4" y2="268.1" stroke="#555" stroke-width="0.5"/>
<text transform="translate(535.6 266.9) scale(1.210 1)" class="t" style="font-size:3.80px" text-anchor="middle">290000</text>
<line x1="535.6" y1="266.5" x2="535.6" y2="268.1" stroke="#555" stroke-width="0.5"/>
<text transform="translate(586.8 266.9) scale(1.210 1)" class="t" style="font-size:3.80px" text-anchor="middle">305000</text>
<line x1="586.8" y1="266.5" x2="586.8" y2="268.1" stroke="#555" stroke-width="0.5"/>
<text transform="translate(638 266.9) scale(1.210 1)" class="t" style="font-size:3.80px" text-anchor="middle">320000</text>
<line x1="638" y1="266.5" x2="638" y2="268.1" stroke="#555" stroke-width="0.5"/>
<line x1="682.2" y1="284" x2="683.8" y2="284" stroke="#555" stroke-width="0.5"/>
<line x1="682.2" y1="326" x2="683.8" y2="326" stroke="#555" stroke-width="0.5"/>
<line x1="682.2" y1="368" x2="683.8" y2="368" stroke="#555" stroke-width="0.5"/>
<line x1="682.2" y1="410" x2="683.8" y2="410" stroke="#555" stroke-width="0.5"/>
<line x1="682.2" y1="452" x2="683.8" y2="452" stroke="#555" stroke-width="0.5"/>
<text transform="translate(370.2 277.7) scale(1.210 1)" class="pl" style="font-size:8.60px">D</text>
<path d="M669.3 278.4L663.5 292.7L669.3 291.3L675.1 293Z" fill="#fff" stroke="#555" stroke-width="0.3" stroke-linejoin="miter"/>
<path d="M669.3 278.4L675.1 293L669.3 291.3L663.5 292.7" fill="none" stroke="#111" stroke-width="0.75"/>
<text transform="translate(670.1 299) scale(1.210 1)" class="n" style="font-size:6.61px" text-anchor="middle">N</text>
<text transform="translate(371.9 399.6) scale(1.210 1)" class="lt" style="font-size:5.95px">F-conc in Cucumber(µg/kg)</text>
<rect x="372.5" y="402.2" width="11.3" height="4.6" fill="#2892C7"/>
<text transform="translate(386.2 405.8) scale(1.210 1)" class="li" style="font-size:3.88px">250 – 264</text>
<rect x="372.5" y="408.5" width="11.3" height="4.6" fill="#60A3B5"/>
<text transform="translate(386.2 412.1) scale(1.210 1)" class="li" style="font-size:3.88px">264 – 278</text>
<rect x="372.5" y="414.9" width="11.3" height="4.6" fill="#8CB8A4"/>
<text transform="translate(386.2 418.4) scale(1.210 1)" class="li" style="font-size:3.88px">278 – 292</text>
<rect x="372.5" y="421.2" width="11.3" height="4.6" fill="#B7CF90"/>
<text transform="translate(386.2 424.8) scale(1.210 1)" class="li" style="font-size:3.88px">292 – 306</text>
<rect x="372.5" y="427.5" width="11.3" height="4.6" fill="#E0E976"/>
<text transform="translate(386.2 431.1) scale(1.210 1)" class="li" style="font-size:3.88px">306 – 320</text>
<rect x="372.5" y="433.8" width="11.3" height="4.6" fill="#FCE45C"/>
<text transform="translate(386.2 437.4) scale(1.210 1)" class="li" style="font-size:3.88px">320 – 334</text>
<rect x="372.5" y="440.2" width="11.3" height="4.6" fill="#FBB344"/>
<text transform="translate(386.2 443.8) scale(1.210 1)" class="li" style="font-size:3.88px">334 – 348</text>
<rect x="372.5" y="446.5" width="11.3" height="4.6" fill="#F88B33"/>
<text transform="translate(386.2 450.1) scale(1.210 1)" class="li" style="font-size:3.88px">348 – 362</text>
<rect x="372.5" y="452.8" width="11.3" height="4.6" fill="#F05A23"/>
<text transform="translate(386.2 456.4) scale(1.210 1)" class="li" style="font-size:3.88px">362 – 376</text>
<rect x="372.5" y="459.2" width="11.3" height="4.6" fill="#E81014"/>
<text transform="translate(386.2 462.8) scale(1.210 1)" class="li" style="font-size:3.88px">376 – 390</text>
<rect x="501.3" y="460.5" width="68.2" height="2.5" fill="#fff" stroke="#000" stroke-width="0.3"/>
<rect x="501.3" y="460.5" width="4.3" height="2.5" fill="#000"/>
<rect x="509.8" y="460.5" width="4.3" height="2.5" fill="#000"/>
<rect x="518.4" y="460.5" width="17" height="2.5" fill="#000"/>
<rect x="552.5" y="460.5" width="17" height="2.5" fill="#000"/>
<text transform="translate(501.3 458.4) scale(1.210 1)" class="sb" style="font-size:4.20px" text-anchor="middle">0</text>
<text transform="translate(509.8 458.4) scale(1.210 1)" class="sb" style="font-size:4.20px" text-anchor="middle">2.5</text>
<text transform="translate(518.4 458.4) scale(1.210 1)" class="sb" style="font-size:4.20px" text-anchor="middle">5</text>
<text transform="translate(535.4 458.4) scale(1.210 1)" class="sb" style="font-size:4.20px" text-anchor="middle">10</text>
<text transform="translate(552.5 458.4) scale(1.210 1)" class="sb" style="font-size:4.20px" text-anchor="middle">15</text>
<text transform="translate(569.5 458.4) scale(1.210 1)" class="sb" style="font-size:4.20px" text-anchor="middle">20</text>
<text transform="translate(570.7 463.2) scale(1.210 1)" class="sb" style="font-size:3.97px">Kilometers</text>
<circle cx="507.5" cy="318.5" r="1.4" fill="#000"/>
<text transform="translate(508.1 317.2) scale(1.000 1)" class="w" style="font-size:7.40px">W1</text>
<circle cx="476.2" cy="333.3" r="1.4" fill="#000"/>
<text transform="translate(476.8 332) scale(1.000 1)" class="w" style="font-size:7.40px">W2</text>
<circle cx="486.9" cy="377" r="1.4" fill="#000"/>
<text transform="translate(487.5 375.7) scale(1.000 1)" class="w" style="font-size:7.40px">W3</text>
<circle cx="632" cy="314" r="1.4" fill="#000"/>
<text transform="translate(632.6 312.7) scale(1.000 1)" class="w" style="font-size:7.40px">W4</text>
<line x1="3.3" y1="502.5" x2="280" y2="502.5" stroke="#555" stroke-width="0.9"/>
<line x1="3.8" y1="502.5" x2="3.8" y2="731.5" stroke="#666" stroke-width="1.1"/>
<line x1="3.3" y1="731.5" x2="280" y2="731.5" stroke="#666" stroke-width="1.1"/>
<line x1="279.6" y1="502.5" x2="279.6" y2="731.5" stroke="#808080" stroke-width="0.8"/>
<text transform="translate(15.6 500.8) scale(0.920 1)" class="t" style="font-size:4.13px" text-anchor="middle">245000</text>
<line x1="15.6" y1="501" x2="15.6" y2="502.6" stroke="#555" stroke-width="0.5"/>
<text transform="translate(60.6 500.8) scale(0.920 1)" class="t" style="font-size:4.13px" text-anchor="middle">260000</text>
<line x1="60.6" y1="501" x2="60.6" y2="502.6" stroke="#555" stroke-width="0.5"/>
<text transform="translate(105.6 500.8) scale(0.920 1)" class="t" style="font-size:4.13px" text-anchor="middle">275000</text>
<line x1="105.6" y1="501" x2="105.6" y2="502.6" stroke="#555" stroke-width="0.5"/>
<text transform="translate(150.6 500.8) scale(0.920 1)" class="t" style="font-size:4.13px" text-anchor="middle">290000</text>
<line x1="150.6" y1="501" x2="150.6" y2="502.6" stroke="#555" stroke-width="0.5"/>
<text transform="translate(195.6 500.8) scale(0.920 1)" class="t" style="font-size:4.13px" text-anchor="middle">305000</text>
<line x1="195.6" y1="501" x2="195.6" y2="502.6" stroke="#555" stroke-width="0.5"/>
<text transform="translate(240.6 500.8) scale(0.920 1)" class="t" style="font-size:4.13px" text-anchor="middle">320000</text>
<line x1="240.6" y1="501" x2="240.6" y2="502.6" stroke="#555" stroke-width="0.5"/>
<text transform="translate(284.6 520.8) rotate(-90) scale(1 0.920)" class="t" style="font-size:4.50px" text-anchor="middle">3880000</text>
<line x1="279.6" y1="520.8" x2="281.2" y2="520.8" stroke="#555" stroke-width="0.5"/>
<text transform="translate(284.6 570.1) rotate(-90) scale(1 0.920)" class="t" style="font-size:4.50px" text-anchor="middle">3865000</text>
<line x1="279.6" y1="570.1" x2="281.2" y2="570.1" stroke="#555" stroke-width="0.5"/>
<text transform="translate(284.6 619.5) rotate(-90) scale(1 0.920)" class="t" style="font-size:4.50px" text-anchor="middle">3850000</text>
<line x1="279.6" y1="619.5" x2="281.2" y2="619.5" stroke="#555" stroke-width="0.5"/>
<text transform="translate(284.6 668.8) rotate(-90) scale(1 0.920)" class="t" style="font-size:4.50px" text-anchor="middle">3835000</text>
<line x1="279.6" y1="668.8" x2="281.2" y2="668.8" stroke="#555" stroke-width="0.5"/>
<text transform="translate(284.6 718.2) rotate(-90) scale(1 0.920)" class="t" style="font-size:4.50px" text-anchor="middle">3820000</text>
<line x1="279.6" y1="718.2" x2="281.2" y2="718.2" stroke="#555" stroke-width="0.5"/>
<text transform="translate(8 512.8) scale(0.920 1)" class="pl" style="font-size:8.30px">E</text>
<path d="M267.3 513.5L262.1 530.2L267.3 528.5L272.5 530.5Z" fill="#fff" stroke="#555" stroke-width="0.3" stroke-linejoin="miter"/>
<path d="M267.3 513.5L272.5 530.5L267.3 528.5L262.1 530.2" fill="none" stroke="#111" stroke-width="0.75"/>
<text transform="translate(268.1 538) scale(0.920 1)" class="n" style="font-size:7.61px" text-anchor="middle">N</text>
<text transform="translate(7.5 645.9) scale(0.920 1)" class="lt" style="font-size:7.12px">F-conc in onion(µg/kg)</text>
<rect x="8" y="650.1" width="11" height="5.8" fill="#2892C7"/>
<text transform="translate(21.5 654.5) scale(0.920 1)" class="li" style="font-size:4.57px">1560 – 1593.2</text>
<rect x="8" y="658.2" width="11" height="5.8" fill="#60A3B5"/>
<text transform="translate(21.5 662.6) scale(0.920 1)" class="li" style="font-size:4.57px">1593.2 – 1626.4</text>
<rect x="8" y="666.2" width="11" height="5.8" fill="#8CB8A4"/>
<text transform="translate(21.5 670.6) scale(0.920 1)" class="li" style="font-size:4.57px">1626.4 – 1659.6</text>
<rect x="8" y="674.3" width="11" height="5.8" fill="#B7CF90"/>
<text transform="translate(21.5 678.7) scale(0.920 1)" class="li" style="font-size:4.57px">1659.6 – 1692.8</text>
<rect x="8" y="682.4" width="11" height="5.8" fill="#E0E976"/>
<text transform="translate(21.5 686.8) scale(0.920 1)" class="li" style="font-size:4.57px">1692.8 – 1726</text>
<rect x="8" y="690.5" width="11" height="5.8" fill="#FCE45C"/>
<text transform="translate(21.5 694.9) scale(0.920 1)" class="li" style="font-size:4.57px">1726 – 1759.2</text>
<rect x="8" y="698.5" width="11" height="5.8" fill="#FBB344"/>
<text transform="translate(21.5 702.9) scale(0.920 1)" class="li" style="font-size:4.57px">1759.2 – 1792.4</text>
<rect x="8" y="706.6" width="11" height="5.8" fill="#F88B33"/>
<text transform="translate(21.5 711) scale(0.920 1)" class="li" style="font-size:4.57px">1792.4 – 1825.6</text>
<rect x="8" y="714.7" width="11" height="5.8" fill="#F05A23"/>
<text transform="translate(21.5 719.1) scale(0.920 1)" class="li" style="font-size:4.57px">1825.6 – 1858.8</text>
<rect x="8" y="722.7" width="11" height="5.8" fill="#E81014"/>
<text transform="translate(21.5 727.1) scale(0.920 1)" class="li" style="font-size:4.57px">1858.8 – 1892</text>
<rect x="121.1" y="726" width="59.2" height="2.6" fill="#fff" stroke="#000" stroke-width="0.3"/>
<rect x="121.1" y="726" width="3.7" height="2.6" fill="#000"/>
<rect x="128.5" y="726" width="3.7" height="2.6" fill="#000"/>
<rect x="135.9" y="726" width="14.8" height="2.6" fill="#000"/>
<rect x="165.5" y="726" width="14.8" height="2.6" fill="#000"/>
<text transform="translate(121.1 723.6) scale(0.920 1)" class="sb" style="font-size:4.20px" text-anchor="middle">0</text>
<text transform="translate(128.5 723.6) scale(0.920 1)" class="sb" style="font-size:4.20px" text-anchor="middle">2.5</text>
<text transform="translate(135.9 723.6) scale(0.920 1)" class="sb" style="font-size:4.20px" text-anchor="middle">5</text>
<text transform="translate(150.7 723.6) scale(0.920 1)" class="sb" style="font-size:4.20px" text-anchor="middle">10</text>
<text transform="translate(165.5 723.6) scale(0.920 1)" class="sb" style="font-size:4.20px" text-anchor="middle">15</text>
<text transform="translate(180.3 723.6) scale(0.920 1)" class="sb" style="font-size:4.20px" text-anchor="middle">20</text>
<text transform="translate(181.5 728.8) scale(0.920 1)" class="sb" style="font-size:4.79px">Kilometers</text>
<circle cx="125.5" cy="561.2" r="1.4" fill="#000"/>
<text transform="translate(126.1 559.3) scale(0.920 1)" class="w" style="font-size:7.61px">W1</text>
<circle cx="98.1" cy="578.3" r="1.4" fill="#000"/>
<text transform="translate(98.7 576.4) scale(0.920 1)" class="w" style="font-size:7.61px">W2</text>
<circle cx="107.5" cy="629" r="1.4" fill="#000"/>
<text transform="translate(108.1 627.1) scale(0.920 1)" class="w" style="font-size:7.61px">W3</text>
<circle cx="234.7" cy="555.9" r="1.4" fill="#000"/>
<text transform="translate(235.3 554) scale(0.920 1)" class="w" style="font-size:7.61px">W4</text>
<line x1="366.9" y1="533.2" x2="683.7" y2="533.2" stroke="#bbb" stroke-width="0.8"/>
<line x1="366.9" y1="532.8" x2="366.9" y2="724.6" stroke="#666" stroke-width="1.1"/>
<line x1="366.4" y1="724.1" x2="683.7" y2="724.1" stroke="#888" stroke-width="1.1"/>
<line x1="683.7" y1="533.2" x2="683.7" y2="724.5" stroke="#ccc" stroke-width="0.6"/>
<text transform="translate(381.4 531.6) scale(1.244 1)" class="t" style="font-size:3.70px" text-anchor="middle">245000</text>
<line x1="381.4" y1="531.6" x2="381.4" y2="533.2" stroke="#555" stroke-width="0.5"/>
<text transform="translate(432.6 531.6) scale(1.244 1)" class="t" style="font-size:3.70px" text-anchor="middle">260000</text>
<line x1="432.6" y1="531.6" x2="432.6" y2="533.2" stroke="#555" stroke-width="0.5"/>
<text transform="translate(483.9 531.6) scale(1.244 1)" class="t" style="font-size:3.70px" text-anchor="middle">275000</text>
<line x1="483.9" y1="531.6" x2="483.9" y2="533.2" stroke="#555" stroke-width="0.5"/>
<text transform="translate(535.1 531.6) scale(1.244 1)" class="t" style="font-size:3.70px" text-anchor="middle">290000</text>
<line x1="535.1" y1="531.6" x2="535.1" y2="533.2" stroke="#555" stroke-width="0.5"/>
<text transform="translate(586.4 531.6) scale(1.244 1)" class="t" style="font-size:3.70px" text-anchor="middle">305000</text>
<line x1="586.4" y1="531.6" x2="586.4" y2="533.2" stroke="#555" stroke-width="0.5"/>
<text transform="translate(637.6 531.6) scale(1.244 1)" class="t" style="font-size:3.70px" text-anchor="middle">320000</text>
<line x1="637.6" y1="531.6" x2="637.6" y2="533.2" stroke="#555" stroke-width="0.5"/>
<line x1="682.2" y1="549" x2="683.8" y2="549" stroke="#555" stroke-width="0.5"/>
<line x1="682.2" y1="590" x2="683.8" y2="590" stroke="#555" stroke-width="0.5"/>
<line x1="682.2" y1="631" x2="683.8" y2="631" stroke="#555" stroke-width="0.5"/>
<line x1="682.2" y1="672" x2="683.8" y2="672" stroke="#555" stroke-width="0.5"/>
<line x1="682.2" y1="713" x2="683.8" y2="713" stroke="#555" stroke-width="0.5"/>
<text transform="translate(372.3 542) scale(1.244 1)" class="pl" style="font-size:7.50px">F</text>
<path d="M669.5 543.3L663.7 557.3L669.5 555.9L675.3 557.6Z" fill="#fff" stroke="#555" stroke-width="0.3" stroke-linejoin="miter"/>
<path d="M669.5 543.3L675.3 557.6L669.5 555.9L663.7 557.3" fill="none" stroke="#111" stroke-width="0.75"/>
<text transform="translate(670.3 563) scale(1.244 1)" class="n" style="font-size:6.43px" text-anchor="middle">N</text>
<text transform="translate(372.6 654) scale(1.244 1)" class="lt" style="font-size:6.03px">F-conc  in potato(µg/kg)</text>
<rect x="372.6" y="656.9" width="13.1" height="4.6" fill="#2892C7"/>
<text transform="translate(388.7 660.5) scale(1.244 1)" class="li" style="font-size:3.94px">1460 – 1505</text>
<rect x="372.6" y="663.8" width="13.1" height="4.6" fill="#60A3B5"/>
<text transform="translate(388.7 667.4) scale(1.244 1)" class="li" style="font-size:3.94px">1505 – 1550</text>
<rect x="372.6" y="670.6" width="13.1" height="4.6" fill="#8CB8A4"/>
<text transform="translate(388.7 674.2) scale(1.244 1)" class="li" style="font-size:3.94px">1550 – 1595</text>
<rect x="372.6" y="677.5" width="13.1" height="4.6" fill="#B7CF90"/>
<text transform="translate(388.7 681.1) scale(1.244 1)" class="li" style="font-size:3.94px">1595 – 1640</text>
<rect x="372.6" y="684.4" width="13.1" height="4.6" fill="#E0E976"/>
<text transform="translate(388.7 688) scale(1.244 1)" class="li" style="font-size:3.94px">1640 – 1685</text>
<rect x="372.6" y="691.2" width="13.1" height="4.6" fill="#FCE45C"/>
<text transform="translate(388.7 694.8) scale(1.244 1)" class="li" style="font-size:3.94px">1685 – 1730</text>
<rect x="372.6" y="698.1" width="13.1" height="4.6" fill="#FBB344"/>
<text transform="translate(388.7 701.7) scale(1.244 1)" class="li" style="font-size:3.94px">1730 – 1775</text>
<rect x="372.6" y="705" width="13.1" height="4.6" fill="#F88B33"/>
<text transform="translate(388.7 708.6) scale(1.244 1)" class="li" style="font-size:3.94px">1775 – 1820</text>
<rect x="372.6" y="711.9" width="13.1" height="4.6" fill="#F05A23"/>
<text transform="translate(388.7 715.5) scale(1.244 1)" class="li" style="font-size:3.94px">1820 – 1865</text>
<rect x="372.6" y="718.7" width="13.1" height="4.6" fill="#E81014"/>
<text transform="translate(388.7 722.3) scale(1.244 1)" class="li" style="font-size:3.94px">1865 – 1910</text>
<rect x="501.3" y="719.8" width="68.2" height="2.5" fill="#fff" stroke="#000" stroke-width="0.3"/>
<rect x="501.3" y="719.8" width="4.3" height="2.5" fill="#000"/>
<rect x="509.8" y="719.8" width="4.3" height="2.5" fill="#000"/>
<rect x="518.4" y="719.8" width="17" height="2.5" fill="#000"/>
<rect x="552.5" y="719.8" width="17" height="2.5" fill="#000"/>
<text transform="translate(501.3 717.6) scale(1.244 1)" class="sb" style="font-size:4.20px" text-anchor="middle">0</text>
<text transform="translate(509.8 717.6) scale(1.244 1)" class="sb" style="font-size:4.20px" text-anchor="middle">2.5</text>
<text transform="translate(518.4 717.6) scale(1.244 1)" class="sb" style="font-size:4.20px" text-anchor="middle">5</text>
<text transform="translate(535.4 717.6) scale(1.244 1)" class="sb" style="font-size:4.20px" text-anchor="middle">10</text>
<text transform="translate(552.5 717.6) scale(1.244 1)" class="sb" style="font-size:4.20px" text-anchor="middle">15</text>
<text transform="translate(569.5 717.6) scale(1.244 1)" class="sb" style="font-size:4.20px" text-anchor="middle">20</text>
<text transform="translate(570.7 722.5) scale(1.244 1)" class="sb" style="font-size:3.86px">Kilometers</text>
<circle cx="506.8" cy="582.7" r="1.4" fill="#000"/>
<text transform="translate(507.4 581.4) scale(1.000 1)" class="w" style="font-size:7.40px">W1</text>
<circle cx="475.4" cy="597.1" r="1.4" fill="#000"/>
<text transform="translate(476 595.8) scale(1.000 1)" class="w" style="font-size:7.40px">W2</text>
<circle cx="486.1" cy="639.7" r="1.4" fill="#000"/>
<text transform="translate(486.7 638.4) scale(1.000 1)" class="w" style="font-size:7.40px">W3</text>
<circle cx="631.8" cy="578.3" r="1.4" fill="#000"/>
<text transform="translate(632.4 577) scale(1.000 1)" class="w" style="font-size:7.40px">W4</text>
<text transform="translate(340.0 507.4) scale(0.84 1.08)" style="font-family:'DejaVu Sans',sans-serif;font-size:20px;font-weight:bold">پ</text>

</svg>
</body></html>
